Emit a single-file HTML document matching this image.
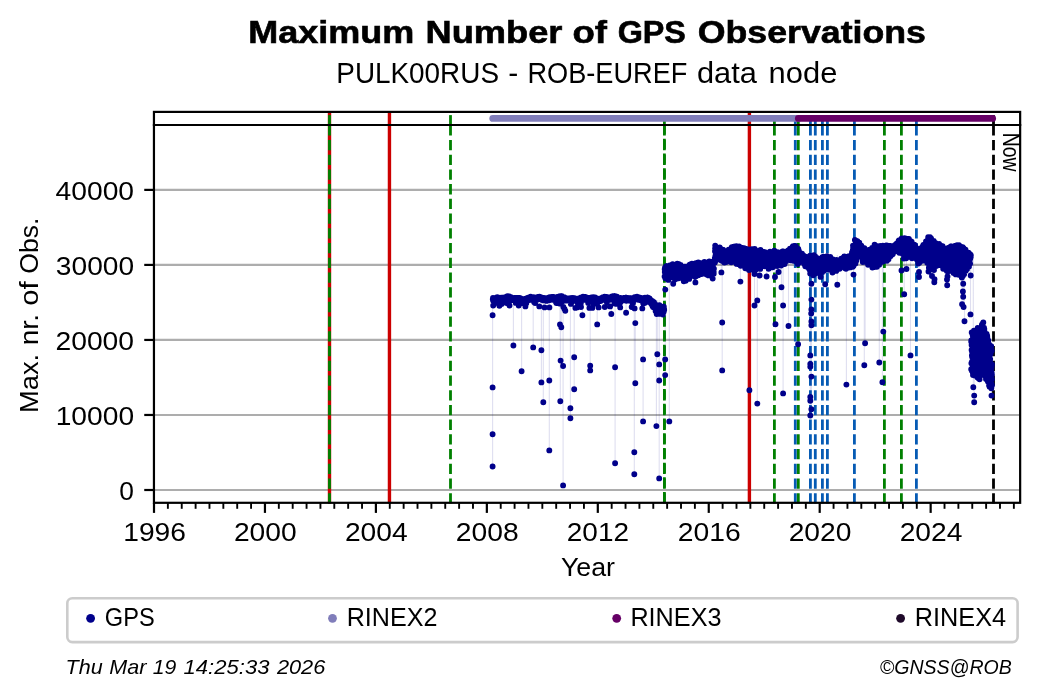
<!DOCTYPE html>
<html lang="en"><head><meta charset="utf-8"><title>Maximum Number of GPS Observations - PULK00RUS</title>
<style>html,body{margin:0;padding:0;background:#fff;overflow:hidden}svg{display:block;will-change:transform}text{font-family:"Liberation Sans",sans-serif;fill:#000}</style>
</head><body>
<svg width="1040" height="699" viewBox="0 0 1040 699">
<rect width="1040" height="699" fill="#fff"/>
<text y="42.70" font-size="31.32" font-weight="bold" stroke="#000" stroke-width="0.6"><tspan x="248.23" textLength="165.98" lengthAdjust="spacingAndGlyphs">Maximum</tspan> <tspan x="425.49" textLength="136.93" lengthAdjust="spacingAndGlyphs">Number</tspan> <tspan x="572.45" textLength="34.54" lengthAdjust="spacingAndGlyphs">of</tspan> <tspan x="617.66" textLength="68.25" lengthAdjust="spacingAndGlyphs">GPS</tspan> <tspan x="697.65" textLength="228.35" lengthAdjust="spacingAndGlyphs">Observations</tspan></text>
<text y="82.60" font-size="29.44"><tspan x="336.29" textLength="162.70" lengthAdjust="spacingAndGlyphs">PULK00RUS</tspan> <tspan x="508.16" textLength="10.01" lengthAdjust="spacingAndGlyphs">-</tspan> <tspan x="527.42" textLength="159.99" lengthAdjust="spacingAndGlyphs">ROB-EUREF</tspan> <tspan x="696.96" textLength="59.85" lengthAdjust="spacingAndGlyphs">data</tspan> <tspan x="768.63" textLength="68.77" lengthAdjust="spacingAndGlyphs">node</tspan></text>
<g stroke="#adadad" stroke-width="2.15">
<line x1="153.95" x2="1020.15" y1="490.00" y2="490.00"/>
<line x1="153.95" x2="1020.15" y1="414.97" y2="414.97"/>
<line x1="153.95" x2="1020.15" y1="339.94" y2="339.94"/>
<line x1="153.95" x2="1020.15" y1="264.91" y2="264.91"/>
<line x1="153.95" x2="1020.15" y1="189.88" y2="189.88"/>
</g>
<path d="M329.50 503.50V125.00" stroke="#cc0000" stroke-width="3.40" fill="none"/>
<path d="M329.50 125.40V111.90" stroke="#cc0000" stroke-width="3.40" fill="none"/>
<path d="M329.50 503.50V125.00" stroke="#008000" stroke-width="2.90" stroke-dasharray="10.28 4.44" fill="none"/>
<path d="M329.50 125.40V111.90" stroke="#008000" stroke-width="2.90" stroke-dasharray="10.28 4.44" fill="none"/>
<path d="M389.45 503.50V125.00" stroke="#cc0000" stroke-width="3.40" fill="none"/>
<path d="M389.45 125.40V111.90" stroke="#cc0000" stroke-width="3.40" fill="none"/>
<path d="M450.50 503.50V125.00" stroke="#008000" stroke-width="2.80" stroke-dasharray="10.28 4.44" fill="none"/>
<path d="M450.50 125.40V111.90" stroke="#008000" stroke-width="2.80" stroke-dasharray="10.28 4.44" fill="none"/>
<path d="M664.40 503.50V125.00" stroke="#008000" stroke-width="2.80" stroke-dasharray="10.28 4.44" fill="none"/>
<path d="M664.40 125.40V111.90" stroke="#008000" stroke-width="2.80" stroke-dasharray="10.28 4.44" fill="none"/>
<path d="M664.4 502.35V125.00" stroke="#008000" stroke-width="2.8" stroke-dasharray="10.28 4.44" fill="none"/>
<path d="M749.40 503.50V125.00" stroke="#cc0000" stroke-width="3.40" fill="none"/>
<path d="M749.40 125.40V111.90" stroke="#cc0000" stroke-width="3.40" fill="none"/>
<path d="M774.40 503.50V125.00" stroke="#008000" stroke-width="2.80" stroke-dasharray="10.28 4.44" fill="none"/>
<path d="M774.40 125.40V111.90" stroke="#008000" stroke-width="2.80" stroke-dasharray="10.28 4.44" fill="none"/>
<path d="M795.30 503.50V125.00" stroke="#065bb4" stroke-width="2.80" stroke-dasharray="10.28 4.44" fill="none"/>
<path d="M795.30 125.40V111.90" stroke="#065bb4" stroke-width="2.80" stroke-dasharray="10.28 4.44" fill="none"/>
<path d="M798.30 503.50V125.00" stroke="#008000" stroke-width="2.80" stroke-dasharray="10.28 4.44" fill="none"/>
<path d="M798.30 125.40V111.90" stroke="#008000" stroke-width="2.80" stroke-dasharray="10.28 4.44" fill="none"/>
<path d="M810.40 503.50V125.00" stroke="#065bb4" stroke-width="2.80" stroke-dasharray="10.28 4.44" fill="none"/>
<path d="M810.40 125.40V111.90" stroke="#065bb4" stroke-width="2.80" stroke-dasharray="10.28 4.44" fill="none"/>
<path d="M815.30 503.50V125.00" stroke="#065bb4" stroke-width="2.80" stroke-dasharray="10.28 4.44" fill="none"/>
<path d="M815.30 125.40V111.90" stroke="#065bb4" stroke-width="2.80" stroke-dasharray="10.28 4.44" fill="none"/>
<path d="M822.40 503.50V125.00" stroke="#065bb4" stroke-width="2.80" stroke-dasharray="10.28 4.44" fill="none"/>
<path d="M822.40 125.40V111.90" stroke="#065bb4" stroke-width="2.80" stroke-dasharray="10.28 4.44" fill="none"/>
<path d="M827.40 503.50V125.00" stroke="#065bb4" stroke-width="2.80" stroke-dasharray="10.28 4.44" fill="none"/>
<path d="M827.40 125.40V111.90" stroke="#065bb4" stroke-width="2.80" stroke-dasharray="10.28 4.44" fill="none"/>
<path d="M854.40 503.50V125.00" stroke="#065bb4" stroke-width="2.80" stroke-dasharray="10.28 4.44" fill="none"/>
<path d="M854.40 125.40V111.90" stroke="#065bb4" stroke-width="2.80" stroke-dasharray="10.28 4.44" fill="none"/>
<path d="M884.40 503.50V125.00" stroke="#008000" stroke-width="2.80" stroke-dasharray="10.28 4.44" fill="none"/>
<path d="M884.40 125.40V111.90" stroke="#008000" stroke-width="2.80" stroke-dasharray="10.28 4.44" fill="none"/>
<path d="M901.40 503.50V125.00" stroke="#008000" stroke-width="2.80" stroke-dasharray="10.28 4.44" fill="none"/>
<path d="M901.40 125.40V111.90" stroke="#008000" stroke-width="2.80" stroke-dasharray="10.28 4.44" fill="none"/>
<path d="M916.40 503.50V125.00" stroke="#065bb4" stroke-width="2.80" stroke-dasharray="10.28 4.44" fill="none"/>
<path d="M916.40 125.40V111.90" stroke="#065bb4" stroke-width="2.80" stroke-dasharray="10.28 4.44" fill="none"/>
<path d="M993.50 503.50V125.00" stroke="#000" stroke-width="2.80" stroke-dasharray="10.28 4.44" fill="none"/>
<path d="M993.50 125.40V111.90" stroke="#000" stroke-width="2.80" stroke-dasharray="10.28 4.44" fill="none"/>
<path d="M492.6 300.0V466.5M513.4 300.0V345.5M521.6 300.0V371.3M533.2 300.0V347.4M541.4 300.0V382.4M543.3 300.0V402.2M549.3 300.0V450.4M560.0 300.0V324.4M560.3 300.0V401.3M560.6 300.0V360.6M561.3 300.0V327.2M563.1 300.0V485.4M570.4 300.0V418.3M574.2 300.0V389.3M582.4 300.0V315.3M590.2 300.0V370.4M597.2 300.0V324.4M611.3 300.0V314.0M615.1 300.0V463.3M626.1 300.0V312.8M634.3 300.0V474.3M635.3 300.0V383.3M643.1 300.0V421.4M656.4 300.0V426.1M657.3 300.0V354.3M659.2 300.0V478.4M665.2 300.0V375.1M669.3 270.0V421.4M673.2 270.0V283.7M695.4 270.0V282.4M721.4 255.0V272.4M722.2 255.0V370.4M740.4 255.0V281.6M749.4 255.0V390.3M754.5 255.0V305.5M757.3 255.0V403.6M759.6 255.0V275.5M766.6 255.0V276.5M775.0 255.0V277.0M775.5 255.0V324.2M778.6 255.0V272.0M781.5 255.0V287.2M783.1 255.0V393.4M788.5 255.0V326.0M798.1 255.0V344.3M810.3 255.0V415.5M811.2 255.0V313.5M811.4 255.0V409.2M820.6 255.0V276.9M825.2 255.0V284.2M837.3 255.0V284.8M846.4 255.0V384.6M853.5 255.0V274.6M864.3 255.0V365.3M865.1 255.0V343.2M879.3 255.0V362.5M882.4 255.0V382.3M883.3 255.0V331.6M901.5 255.0V270.5M904.2 255.0V294.2M906.5 255.0V269.0M910.5 255.0V355.4M919.0 255.0V277.0M928.5 255.0V271.5M932.0 255.0V276.0M934.3 255.0V282.3M934.5 255.0V279.3M947.0 255.0V279.5M947.2 255.0V285.3M947.5 255.0V276.5M962.1 255.0V304.2M962.9 255.0V291.5M963.2 255.0V296.7M963.6 255.0V307.0M964.5 255.0V321.3M970.5 255.0V314.4M970.7 255.0V275.5M973.3 255.0V387.2M974.2 350.0V402.3M991.5 350.0V395.6" stroke="#00008b" stroke-opacity="0.13" stroke-width="1.1" fill="none"/>
<path d="M492.8 299.2h0M493.0 298.0h0M493.1 300.5h0M493.3 298.9h0M493.4 299.1h0M493.6 298.5h0M493.8 299.6h0M493.9 298.4h0M494.1 298.3h0M494.2 299.2h0M494.4 299.5h0M494.6 298.3h0M494.7 299.4h0M494.9 298.8h0M495.0 300.6h0M495.2 297.9h0M495.4 300.5h0M495.5 298.8h0M495.7 299.0h0M495.8 297.9h0M496.0 299.6h0M496.2 298.0h0M496.3 298.4h0M496.5 297.4h0M496.6 298.3h0M496.8 300.2h0M497.0 300.2h0M497.1 299.5h0M497.3 297.2h0M497.4 300.0h0M497.6 299.8h0M497.8 299.5h0M497.9 297.7h0M498.1 297.5h0M498.2 298.4h0M498.4 299.9h0M498.6 298.9h0M498.7 299.4h0M498.9 297.9h0M499.0 298.8h0M499.2 299.4h0M499.4 299.8h0M499.5 299.7h0M499.7 298.0h0M499.8 300.0h0M500.0 298.0h0M500.2 299.8h0M500.3 299.1h0M500.5 298.0h0M500.6 299.3h0M500.8 299.1h0M501.0 300.4h0M501.1 297.7h0M501.3 298.1h0M501.4 300.6h0M501.6 300.1h0M501.8 298.1h0M501.9 298.3h0M502.1 299.3h0M502.2 298.1h0M502.4 298.6h0M502.6 297.8h0M502.7 299.8h0M502.9 297.9h0M503.0 300.6h0M503.2 300.3h0M503.4 299.9h0M503.5 299.8h0M503.7 298.6h0M503.8 299.5h0M504.0 299.7h0M504.2 298.8h0M504.3 297.5h0M504.5 299.1h0M504.6 298.2h0M504.8 299.0h0M505.0 298.3h0M505.1 299.9h0M505.3 297.6h0M505.4 299.2h0M505.6 298.9h0M505.8 298.5h0M505.9 297.0h0M506.1 297.2h0M506.2 299.5h0M506.4 297.3h0M506.6 297.0h0M506.7 297.3h0M506.9 298.0h0M507.0 297.9h0M507.2 296.4h0M507.4 296.3h0M507.5 297.8h0M507.7 296.8h0M507.8 298.1h0M508.0 298.6h0M508.2 296.5h0M508.3 297.8h0M508.5 297.5h0M508.6 298.6h0M508.8 299.1h0M509.0 297.6h0M509.1 297.1h0M509.3 299.0h0M509.4 296.5h0M509.6 297.4h0M509.8 297.7h0M509.9 297.1h0M510.1 298.6h0M510.2 298.2h0M510.4 297.5h0M510.6 298.0h0M510.7 298.9h0M510.9 297.9h0M511.0 297.2h0M511.2 298.4h0M511.4 297.7h0M511.5 299.0h0M511.7 297.8h0M511.8 297.7h0M512.0 300.1h0M512.2 298.4h0M512.3 298.4h0M512.5 299.2h0M512.6 299.7h0M512.8 299.7h0M513.0 300.1h0M513.1 298.5h0M513.3 299.1h0M513.4 298.9h0M513.6 299.4h0M513.8 299.6h0M513.9 299.8h0M514.1 298.2h0M514.2 299.1h0M514.4 300.1h0M514.6 298.1h0M514.7 300.2h0M514.9 300.1h0M515.0 299.2h0M515.2 299.4h0M515.4 298.8h0M515.5 300.2h0M515.7 299.4h0M515.8 298.8h0M516.0 298.0h0M516.2 299.0h0M516.3 300.7h0M516.5 299.9h0M516.6 299.8h0M516.8 300.7h0M517.0 297.9h0M517.1 299.6h0M517.3 298.4h0M517.4 299.0h0M517.6 298.4h0M517.8 298.8h0M517.9 300.5h0M518.1 300.0h0M518.2 300.3h0M518.4 298.0h0M518.6 298.7h0M518.7 300.2h0M518.9 297.9h0M519.0 298.4h0M519.2 298.1h0M519.4 300.3h0M519.5 298.6h0M519.7 299.2h0M519.8 298.0h0M520.0 298.4h0M520.2 299.6h0M520.3 300.5h0M520.5 299.2h0M520.6 299.1h0M520.8 298.4h0M521.0 298.6h0M521.1 298.8h0M521.3 299.0h0M521.4 300.1h0M521.6 299.6h0M521.8 301.5h0M521.9 299.4h0M522.1 301.2h0M522.2 298.9h0M522.4 300.3h0M522.6 300.4h0M522.7 300.7h0M522.9 300.0h0M523.0 300.4h0M523.2 301.2h0M523.4 299.3h0M523.5 300.5h0M523.7 300.6h0M523.8 301.2h0M524.0 299.4h0M524.2 300.1h0M524.3 298.9h0M524.5 300.8h0M524.6 301.4h0M524.8 299.8h0M525.0 301.2h0M525.1 300.7h0M525.3 298.7h0M525.4 300.0h0M525.6 298.7h0M525.8 299.4h0M525.9 300.8h0M526.1 298.7h0M526.2 300.0h0M526.4 298.4h0M526.6 298.5h0M526.7 300.9h0M526.9 298.3h0M527.0 298.4h0M527.2 300.7h0M527.4 298.7h0M527.5 298.3h0M527.7 297.9h0M527.8 299.0h0M528.0 297.6h0M528.2 298.1h0M528.3 298.0h0M528.5 299.5h0M528.6 297.7h0M528.8 298.9h0M529.0 297.8h0M529.1 300.0h0M529.3 300.0h0M529.4 299.7h0M529.6 299.6h0M529.8 298.6h0M529.9 299.7h0M530.1 298.8h0M530.2 297.3h0M530.4 299.0h0M530.6 299.4h0M530.7 296.8h0M530.9 297.4h0M531.0 299.2h0M531.2 299.1h0M531.4 298.5h0M531.5 297.2h0M531.7 297.7h0M531.8 297.6h0M532.0 299.9h0M532.2 297.6h0M532.3 298.1h0M532.5 299.1h0M532.6 299.0h0M532.8 298.7h0M533.0 299.0h0M533.1 299.7h0M533.3 299.9h0M533.4 297.5h0M533.6 297.3h0M533.8 299.9h0M533.9 299.9h0M534.1 298.3h0M534.2 298.4h0M534.4 299.3h0M534.6 298.5h0M534.7 297.6h0M534.9 298.0h0M535.0 298.2h0M535.2 299.0h0M535.4 297.8h0M535.5 299.4h0M535.7 300.1h0M535.8 298.4h0M536.0 298.9h0M536.2 299.1h0M536.3 299.5h0M536.5 299.0h0M536.6 298.6h0M536.8 299.2h0M537.0 297.1h0M537.1 299.8h0M537.3 299.6h0M537.4 299.0h0M537.6 297.5h0M537.8 298.7h0M537.9 296.9h0M538.1 298.0h0M538.2 297.4h0M538.4 298.4h0M538.6 297.4h0M538.7 296.9h0M538.9 299.0h0M539.0 297.4h0M539.2 298.3h0M539.4 296.6h0M539.5 298.3h0M539.7 299.0h0M539.8 298.9h0M540.0 297.6h0M540.2 297.0h0M540.3 298.5h0M540.5 297.6h0M540.6 297.5h0M540.8 297.3h0M541.0 297.9h0M541.1 298.8h0M541.3 298.0h0M541.4 298.8h0M541.6 299.1h0M541.8 299.4h0M541.9 298.7h0M542.1 300.1h0M542.2 298.7h0M542.4 298.8h0M542.6 299.3h0M542.7 300.3h0M542.9 299.5h0M543.0 300.2h0M543.2 298.0h0M543.4 298.9h0M543.5 299.8h0M543.7 299.9h0M543.8 300.3h0M544.0 298.6h0M544.2 298.8h0M544.3 299.2h0M544.5 299.2h0M544.6 298.3h0M544.8 299.2h0M545.0 300.0h0M545.1 300.4h0M545.3 298.9h0M545.4 300.0h0M545.6 300.5h0M545.8 298.7h0M545.9 298.3h0M546.1 298.7h0M546.2 300.2h0M546.4 300.9h0M546.6 299.3h0M546.7 299.1h0M546.9 300.0h0M547.0 299.0h0M547.2 298.2h0M547.4 298.8h0M547.5 299.8h0M547.7 299.3h0M547.8 298.9h0M548.0 299.0h0M548.2 298.2h0M548.3 300.0h0M548.5 298.8h0M548.6 299.7h0M548.8 299.3h0M549.0 300.2h0M549.1 299.8h0M549.3 297.8h0M549.4 298.7h0M549.6 297.3h0M549.8 299.5h0M549.9 297.9h0M550.1 300.1h0M550.2 297.8h0M550.4 298.6h0M550.6 298.5h0M550.7 299.5h0M550.9 298.8h0M551.0 299.6h0M551.2 297.9h0M551.4 297.2h0M551.5 297.5h0M551.7 297.0h0M551.8 299.0h0M552.0 298.9h0M552.2 299.1h0M552.3 299.2h0M552.5 297.3h0M552.6 297.1h0M552.8 298.9h0M553.0 296.9h0M553.1 298.0h0M553.3 298.7h0M553.4 299.0h0M553.6 298.9h0M553.8 299.9h0M553.9 300.0h0M554.1 298.0h0M554.2 298.0h0M554.4 297.2h0M554.6 297.5h0M554.7 298.5h0M554.9 299.1h0M555.0 297.9h0M555.2 297.5h0M555.4 299.3h0M555.5 299.2h0M555.7 298.7h0M555.8 297.6h0M556.0 297.8h0M556.2 298.0h0M556.3 299.7h0M556.5 299.9h0M556.6 297.3h0M556.8 299.9h0M557.0 299.8h0M557.1 299.4h0M557.3 297.7h0M557.4 299.9h0M557.6 299.3h0M557.8 297.3h0M557.9 296.9h0M558.1 297.9h0M558.2 298.5h0M558.4 296.8h0M558.6 299.5h0M558.7 298.6h0M558.9 298.1h0M559.0 298.0h0M559.2 296.7h0M559.4 298.6h0M559.5 298.6h0M559.7 296.4h0M559.8 298.7h0M560.0 297.3h0M560.2 299.0h0M560.3 297.2h0M560.5 296.8h0M560.6 296.7h0M560.8 297.1h0M561.0 296.3h0M561.1 296.5h0M561.3 297.5h0M561.4 297.7h0M561.6 297.7h0M561.8 296.5h0M561.9 296.2h0M562.1 296.6h0M562.2 298.8h0M562.4 296.6h0M562.6 298.3h0M562.7 297.9h0M562.9 298.1h0M563.0 299.2h0M563.2 297.2h0M563.4 298.6h0M563.5 298.1h0M563.7 297.7h0M563.8 297.9h0M564.0 297.4h0M564.2 297.1h0M564.3 299.7h0M564.5 298.9h0M564.6 297.6h0M564.8 299.6h0M565.0 297.8h0M565.1 299.3h0M565.3 299.1h0M565.4 299.8h0M565.6 298.8h0M565.8 300.5h0M565.9 299.8h0M566.1 299.1h0M566.2 298.1h0M566.4 298.6h0M566.6 298.3h0M566.7 299.5h0M566.9 300.4h0M567.0 300.2h0M567.2 300.0h0M567.4 299.3h0M567.5 298.9h0M567.7 300.5h0M567.8 300.1h0M568.0 300.1h0M568.2 299.8h0M568.3 300.5h0M568.5 299.9h0M568.6 298.9h0M568.8 299.3h0M569.0 299.1h0M569.1 299.0h0M569.3 300.8h0M569.4 300.2h0M569.6 299.9h0M569.8 299.4h0M569.9 299.5h0M570.1 298.3h0M570.2 299.4h0M570.4 299.7h0M570.6 299.0h0M570.7 299.4h0M570.9 300.9h0M571.0 300.6h0M571.2 298.1h0M571.4 300.7h0M571.5 300.2h0M571.7 300.3h0M571.8 300.3h0M572.0 298.5h0M572.2 298.2h0M572.3 299.8h0M572.5 300.3h0M572.6 298.2h0M572.8 297.9h0M573.0 300.7h0M573.1 300.7h0M573.3 298.7h0M573.4 300.5h0M573.6 298.9h0M573.8 300.6h0M573.9 298.1h0M574.1 299.9h0M574.2 298.8h0M574.4 300.1h0M574.6 298.3h0M574.7 300.2h0M574.9 298.6h0M575.0 299.7h0M575.2 298.6h0M575.4 299.6h0M575.5 298.9h0M575.7 299.5h0M575.8 299.9h0M576.0 300.5h0M576.2 300.5h0M576.3 300.2h0M576.5 301.2h0M576.6 299.9h0M576.8 299.1h0M577.0 300.7h0M577.1 299.7h0M577.3 301.4h0M577.4 299.8h0M577.6 298.7h0M577.8 299.6h0M577.9 301.4h0M578.1 300.0h0M578.2 301.0h0M578.4 299.6h0M578.6 300.2h0M578.7 298.6h0M578.9 298.9h0M579.0 298.6h0M579.2 299.4h0M579.4 299.1h0M579.5 299.7h0M579.7 300.0h0M579.8 298.7h0M580.0 298.7h0M580.2 297.9h0M580.3 298.1h0M580.5 298.8h0M580.6 300.3h0M580.8 298.1h0M581.0 298.6h0M581.1 297.4h0M581.3 299.1h0M581.4 298.5h0M581.6 298.1h0M581.8 298.3h0M581.9 297.9h0M582.1 298.2h0M582.2 297.5h0M582.4 299.0h0M582.6 299.7h0M582.7 299.5h0M582.9 297.9h0M583.0 296.8h0M583.2 299.1h0M583.4 298.1h0M583.5 298.4h0M583.7 298.7h0M583.8 299.2h0M584.0 298.3h0M584.2 298.0h0M584.3 297.1h0M584.5 296.9h0M584.6 297.3h0M584.8 297.3h0M585.0 299.7h0M585.1 298.6h0M585.3 297.0h0M585.4 297.9h0M585.6 298.2h0M585.8 299.5h0M585.9 298.3h0M586.1 298.8h0M586.2 297.9h0M586.4 298.2h0M586.6 297.5h0M586.7 299.6h0M586.9 298.8h0M587.0 299.6h0M587.2 299.1h0M587.4 297.7h0M587.5 298.3h0M587.7 298.4h0M587.8 299.9h0M588.0 298.6h0M588.2 300.4h0M588.3 300.0h0M588.5 299.6h0M588.6 299.2h0M588.8 299.7h0M589.0 298.6h0M589.1 297.9h0M589.3 300.1h0M589.4 298.9h0M589.6 300.4h0M589.8 299.7h0M589.9 299.2h0M590.1 298.8h0M590.2 299.5h0M590.4 298.2h0M590.6 298.5h0M590.7 298.4h0M590.9 299.8h0M591.0 300.2h0M591.2 297.6h0M591.4 297.4h0M591.5 298.3h0M591.7 299.3h0M591.8 298.5h0M592.0 299.5h0M592.2 300.1h0M592.3 299.2h0M592.5 299.1h0M592.6 297.6h0M592.8 298.9h0M593.0 299.0h0M593.1 297.7h0M593.3 297.2h0M593.4 299.2h0M593.6 300.1h0M593.8 299.1h0M593.9 297.8h0M594.1 299.8h0M594.2 298.2h0M594.4 298.3h0M594.6 299.7h0M594.7 299.7h0M594.9 300.2h0M595.0 300.1h0M595.2 297.5h0M595.4 298.2h0M595.5 299.3h0M595.7 298.3h0M595.8 300.2h0M596.0 300.0h0M596.2 300.1h0M596.3 300.7h0M596.5 300.0h0M596.6 300.9h0M596.8 299.4h0M597.0 298.5h0M597.1 299.7h0M597.3 301.0h0M597.4 300.1h0M597.6 299.2h0M597.8 298.6h0M597.9 298.7h0M598.1 298.7h0M598.2 300.5h0M598.4 299.4h0M598.6 299.7h0M598.7 301.4h0M598.9 299.4h0M599.0 300.4h0M599.2 299.5h0M599.4 299.6h0M599.5 299.7h0M599.7 299.7h0M599.8 298.7h0M600.0 300.2h0M600.2 299.9h0M600.3 298.6h0M600.5 301.1h0M600.6 301.1h0M600.8 298.9h0M601.0 299.0h0M601.1 300.3h0M601.3 299.4h0M601.4 299.5h0M601.6 300.0h0M601.8 299.9h0M601.9 298.4h0M602.1 299.0h0M602.2 299.9h0M602.4 300.1h0M602.6 299.9h0M602.7 299.7h0M602.9 299.2h0M603.0 297.2h0M603.2 298.2h0M603.4 299.1h0M603.5 297.7h0M603.7 297.1h0M603.8 298.6h0M604.0 299.1h0M604.2 299.8h0M604.3 298.9h0M604.5 298.1h0M604.6 296.8h0M604.8 298.7h0M605.0 299.3h0M605.1 298.2h0M605.3 298.3h0M605.4 296.9h0M605.6 297.6h0M605.8 298.4h0M605.9 299.0h0M606.1 297.6h0M606.2 299.1h0M606.4 298.4h0M606.6 298.3h0M606.7 297.3h0M606.9 298.8h0M607.0 297.1h0M607.2 298.0h0M607.4 299.4h0M607.5 299.4h0M607.7 299.6h0M607.8 297.4h0M608.0 299.5h0M608.2 298.3h0M608.3 297.4h0M608.5 299.6h0M608.6 299.7h0M608.8 299.8h0M609.0 298.0h0M609.1 297.6h0M609.3 299.7h0M609.4 299.0h0M609.6 299.7h0M609.8 299.1h0M609.9 299.8h0M610.1 299.0h0M610.2 299.3h0M610.4 299.6h0M610.6 298.1h0M610.7 299.5h0M610.9 298.0h0M611.0 299.6h0M611.2 298.3h0M611.4 298.5h0M611.5 296.6h0M611.7 297.6h0M611.8 297.3h0M612.0 296.5h0M612.2 297.4h0M612.3 297.1h0M612.5 296.7h0M612.6 297.1h0M612.8 298.8h0M613.0 296.9h0M613.1 298.3h0M613.3 299.1h0M613.4 296.1h0M613.6 298.2h0M613.8 296.5h0M613.9 296.6h0M614.1 297.0h0M614.2 298.8h0M614.4 298.7h0M614.6 296.3h0M614.7 298.4h0M614.9 296.3h0M615.0 297.1h0M615.2 299.1h0M615.4 298.8h0M615.5 296.5h0M615.7 297.9h0M615.8 297.5h0M616.0 298.3h0M616.2 298.9h0M616.3 298.1h0M616.5 299.3h0M616.6 299.2h0M616.8 297.1h0M617.0 296.8h0M617.1 297.3h0M617.3 298.3h0M617.4 299.0h0M617.6 299.5h0M617.8 299.2h0M617.9 299.1h0M618.1 299.0h0M618.2 299.2h0M618.4 298.6h0M618.6 299.4h0M618.7 300.0h0M618.9 300.1h0M619.0 299.8h0M619.2 299.7h0M619.4 298.0h0M619.5 298.8h0M619.7 299.3h0M619.8 298.9h0M620.0 298.6h0M620.2 299.2h0M620.3 300.6h0M620.5 298.9h0M620.6 300.9h0M620.8 298.2h0M621.0 299.4h0M621.1 300.4h0M621.3 300.5h0M621.4 298.2h0M621.6 298.5h0M621.8 298.4h0M621.9 299.9h0M622.1 298.5h0M622.2 299.3h0M622.4 299.0h0M622.6 298.4h0M622.7 299.2h0M622.9 299.4h0M623.0 299.8h0M623.2 299.0h0M623.4 298.2h0M623.5 298.9h0M623.7 300.0h0M623.8 297.9h0M624.0 299.4h0M624.2 297.9h0M624.3 300.4h0M624.5 298.4h0M624.6 299.3h0M624.8 298.0h0M625.0 299.3h0M625.1 300.1h0M625.3 300.4h0M625.4 300.0h0M625.6 300.3h0M625.8 297.7h0M625.9 300.1h0M626.1 297.8h0M626.2 300.3h0M626.4 300.7h0M626.6 299.8h0M626.7 299.5h0M626.9 299.9h0M627.0 298.0h0M627.2 300.3h0M627.4 298.0h0M627.5 298.5h0M627.7 298.6h0M627.8 299.9h0M628.0 299.1h0M628.2 299.1h0M628.3 299.5h0M628.5 300.3h0M628.6 300.5h0M628.8 300.6h0M629.0 298.9h0M629.1 298.3h0M629.3 298.4h0M629.4 298.5h0M629.6 300.4h0M629.8 298.4h0M629.9 300.5h0M630.1 298.2h0M630.2 300.3h0M630.4 299.0h0M630.6 300.2h0M630.7 300.5h0M630.9 300.2h0M631.0 298.4h0M631.2 298.2h0M631.4 299.3h0M631.5 300.8h0M631.7 299.5h0M631.8 298.8h0M632.0 299.4h0M632.2 300.4h0M632.3 298.5h0M632.5 298.2h0M632.6 300.5h0M632.8 299.0h0M633.0 299.0h0M633.1 298.5h0M633.3 298.3h0M633.4 300.1h0M633.6 299.8h0M633.8 298.1h0M633.9 299.5h0M634.1 300.0h0M634.2 298.4h0M634.4 300.0h0M634.6 297.3h0M634.7 299.5h0M634.9 299.5h0M635.0 297.6h0M635.2 297.7h0M635.4 297.6h0M635.5 297.2h0M635.7 299.1h0M635.8 298.8h0M636.0 299.0h0M636.2 298.6h0M636.3 297.4h0M636.5 296.9h0M636.6 297.4h0M636.8 299.0h0M637.0 296.7h0M637.1 298.2h0M637.3 297.6h0M637.4 297.5h0M637.6 297.7h0M637.8 298.5h0M637.9 297.3h0M638.1 297.3h0M638.2 299.4h0M638.4 299.2h0M638.6 298.0h0M638.7 297.7h0M638.9 298.8h0M639.0 299.9h0M639.2 299.5h0M639.4 298.5h0M639.5 299.2h0M639.7 298.4h0M639.8 299.5h0M640.0 299.0h0M640.2 297.6h0M640.3 299.6h0M640.5 300.2h0M640.6 299.1h0M640.8 298.2h0M641.0 298.7h0M641.1 298.4h0M641.3 300.3h0M641.4 300.1h0M641.6 298.8h0M641.8 298.8h0M641.9 298.3h0M642.1 299.3h0M642.2 300.9h0M642.4 300.2h0M642.6 300.8h0M642.7 298.2h0M642.9 300.8h0M643.0 300.7h0M643.2 300.4h0M643.4 298.3h0M643.5 300.5h0M643.7 300.9h0M643.8 300.1h0M644.0 299.4h0M644.2 298.9h0M644.3 300.5h0M644.5 299.6h0M644.6 298.8h0M644.8 298.0h0M645.0 297.8h0M645.1 299.8h0M645.3 298.6h0M645.4 298.1h0M645.6 298.6h0M645.8 299.0h0M645.9 300.2h0M646.1 299.0h0M646.2 298.0h0M646.4 300.1h0M646.6 299.6h0M646.7 299.2h0M646.9 300.3h0M647.0 298.8h0M647.2 298.8h0M647.4 297.8h0M647.5 299.8h0M647.7 299.6h0M647.8 300.6h0M648.0 297.8h0M648.2 299.0h0M648.3 299.1h0M648.5 299.1h0M648.6 298.0h0M648.8 300.4h0M649.0 298.1h0M592.6 302.3h0M559.4 303.6h0M525.4 302.8h0M535.1 303.0h0M577.8 303.2h0M508.7 303.1h0M596.0 301.7h0M643.3 303.6h0M616.1 303.5h0M571.0 303.8h0M517.9 303.4h0M644.4 301.7h0M593.9 303.9h0M515.8 302.9h0M632.3 302.2h0M526.3 303.3h0M616.3 303.9h0M594.5 301.6h0M620.5 302.2h0M580.8 303.3h0M644.6 302.9h0M516.3 302.8h0M579.5 303.4h0M523.4 302.9h0M501.6 304.0h0M497.5 302.9h0M520.9 302.2h0M555.9 302.1h0M534.2 302.3h0M570.9 303.9h0M526.2 301.9h0M500.6 303.8h0M614.6 303.6h0M517.0 302.6h0M597.4 302.8h0M606.8 302.0h0M633.0 303.0h0M588.2 303.0h0M562.2 301.5h0M519.2 302.7h0M506.6 303.0h0M523.3 303.2h0M556.4 303.1h0M534.3 301.8h0M596.3 303.6h0M647.0 297.7h0M647.2 300.4h0M647.2 301.1h0M647.4 301.2h0M647.5 298.0h0M647.6 297.9h0M647.8 300.2h0M647.9 298.7h0M648.0 301.2h0M648.2 298.3h0M648.2 301.3h0M648.4 300.3h0M648.5 298.8h0M648.6 300.6h0M648.7 299.6h0M648.9 302.1h0M649.0 299.0h0M649.1 299.1h0M649.2 300.7h0M649.3 300.0h0M649.5 298.5h0M649.6 301.2h0M649.7 301.9h0M649.9 299.3h0M650.0 301.7h0M650.1 300.4h0M650.3 302.7h0M650.4 299.8h0M650.6 300.0h0M650.6 300.8h0M650.8 301.5h0M650.9 303.0h0M651.0 300.1h0M651.2 300.4h0M651.3 301.4h0M651.4 304.0h0M651.6 304.2h0M651.6 300.9h0M651.8 302.2h0M651.9 304.5h0M652.0 301.7h0M652.2 305.1h0M652.2 302.4h0M652.4 305.8h0M652.5 301.3h0M652.6 302.1h0M652.7 306.2h0M652.9 302.6h0M653.0 306.9h0M653.2 305.1h0M653.2 304.0h0M653.4 304.0h0M653.5 302.2h0M653.6 307.2h0M653.8 305.9h0M653.9 302.1h0M654.1 304.3h0M654.1 306.3h0M654.2 305.2h0M654.4 306.3h0M654.6 304.5h0M654.7 304.0h0M654.8 303.8h0M654.9 304.6h0M655.0 306.8h0M655.2 306.8h0M655.3 306.3h0M655.4 307.1h0M655.6 311.1h0M655.6 310.5h0M655.8 308.2h0M655.9 306.6h0M656.0 305.8h0M656.1 307.7h0M656.3 307.6h0M656.4 305.7h0M656.5 307.9h0M656.7 314.0h0M656.8 307.9h0M656.9 311.2h0M657.0 313.6h0M657.1 311.9h0M657.3 307.4h0M657.4 307.0h0M657.6 313.4h0M657.7 313.3h0M657.8 310.9h0M657.9 310.3h0M658.0 307.5h0M658.2 308.0h0M658.3 313.7h0M658.5 310.5h0M658.6 307.3h0M658.7 312.6h0M658.8 306.8h0M659.0 312.9h0M659.0 310.3h0M659.1 313.9h0M659.3 306.5h0M659.4 305.3h0M659.6 308.8h0M659.6 306.6h0M659.8 312.3h0M659.9 309.0h0M660.0 307.4h0M660.2 306.8h0M660.3 310.7h0M660.4 306.5h0M660.6 307.8h0M660.6 310.2h0M660.8 310.2h0M660.9 312.9h0M661.0 312.8h0M661.2 309.8h0M661.3 309.1h0M661.4 313.4h0M661.6 311.0h0M661.7 309.2h0M661.8 314.0h0M662.0 310.9h0M662.1 308.8h0M662.2 312.9h0M662.3 312.5h0M662.5 314.3h0M662.6 311.4h0M662.7 310.1h0M662.8 314.5h0M662.9 312.0h0M663.0 307.4h0M663.2 308.3h0M663.3 307.7h0M663.4 306.7h0M663.6 306.7h0M663.7 311.8h0M663.8 306.7h0M664.0 309.6h0M664.1 308.9h0M664.2 309.9h0M493.2 305.5h0M499.4 305.8h0M509.5 305.5h0M518.7 305.5h0M525.4 306.4h0M539.3 306.4h0M544.6 307.4h0M549.4 307.4h0M563.4 307.0h0M565.3 310.8h0M564.5 309.0h0M575.4 307.9h0M581.0 307.0h0M577.0 307.4h0M589.4 307.9h0M592.3 307.9h0M598.6 307.4h0M604.8 307.0h0M610.1 306.4h0M620.2 307.4h0M631.7 307.0h0M634.6 308.4h0M642.3 308.4h0M664.6 276.4h0M664.7 269.3h0M664.8 272.1h0M665.0 267.6h0M665.1 275.9h0M665.2 276.8h0M665.4 273.2h0M665.5 273.1h0M665.6 267.8h0M665.8 274.3h0M665.9 266.8h0M665.9 276.1h0M666.1 269.9h0M666.2 266.1h0M666.4 270.2h0M666.5 269.1h0M666.6 266.2h0M666.7 270.6h0M666.8 267.2h0M667.0 275.1h0M667.1 269.4h0M667.2 268.5h0M667.4 272.7h0M667.5 275.6h0M667.6 272.3h0M667.7 275.4h0M667.9 275.9h0M668.0 277.0h0M668.1 275.5h0M668.2 274.9h0M668.3 271.7h0M668.5 267.0h0M668.6 276.6h0M668.7 274.4h0M668.8 273.4h0M669.0 268.8h0M669.1 271.3h0M669.2 270.2h0M669.3 271.0h0M669.4 275.3h0M669.6 271.7h0M669.7 265.4h0M669.9 274.6h0M669.9 275.8h0M670.1 275.4h0M670.2 274.6h0M670.4 276.3h0M670.5 273.5h0M670.6 272.9h0M670.8 272.3h0M670.9 267.6h0M671.0 266.9h0M671.1 267.3h0M671.2 276.5h0M671.3 273.7h0M671.5 274.3h0M671.6 276.6h0M671.8 274.3h0M671.9 274.3h0M672.0 276.7h0M672.1 267.3h0M672.2 274.1h0M672.3 277.3h0M672.4 275.5h0M672.6 265.4h0M672.7 264.2h0M672.9 268.7h0M673.0 269.6h0M673.1 269.9h0M673.2 266.8h0M673.4 274.9h0M673.5 273.3h0M673.6 267.3h0M673.7 274.4h0M673.9 273.5h0M673.9 270.8h0M674.1 269.1h0M674.2 269.9h0M674.3 274.8h0M674.5 276.8h0M674.6 277.7h0M674.7 277.2h0M674.9 269.8h0M675.0 271.2h0M675.1 265.1h0M675.3 272.9h0M675.4 270.3h0M675.5 271.9h0M675.6 267.1h0M675.7 270.1h0M675.8 273.5h0M676.0 267.1h0M676.1 267.4h0M676.2 271.4h0M676.4 273.9h0M676.4 276.2h0M676.6 271.0h0M676.7 266.4h0M676.9 277.1h0M677.0 271.3h0M677.1 268.6h0M677.2 272.1h0M677.3 263.7h0M677.5 267.9h0M677.6 271.3h0M677.8 272.5h0M677.9 270.7h0M678.0 273.5h0M678.1 269.8h0M678.3 276.5h0M678.4 265.6h0M678.5 264.0h0M678.6 276.7h0M678.7 272.7h0M678.9 270.4h0M679.0 265.3h0M679.1 271.0h0M679.2 274.9h0M679.4 270.3h0M679.5 269.4h0M679.6 266.1h0M679.7 269.1h0M679.9 276.5h0M680.0 273.0h0M680.1 273.4h0M680.2 275.4h0M680.4 266.4h0M680.5 265.4h0M680.6 265.0h0M680.7 273.2h0M680.8 268.9h0M681.0 267.9h0M681.1 267.8h0M681.2 273.9h0M681.3 277.9h0M681.5 270.8h0M681.6 274.9h0M681.7 270.3h0M681.9 277.4h0M682.0 271.3h0M682.1 272.5h0M682.3 273.8h0M682.4 268.6h0M682.5 276.9h0M682.6 270.0h0M682.7 270.0h0M682.9 267.2h0M683.0 267.0h0M683.1 272.3h0M683.2 275.1h0M683.4 276.0h0M683.5 270.9h0M683.6 271.8h0M683.7 277.9h0M683.9 272.4h0M684.0 272.7h0M684.1 277.4h0M684.2 270.1h0M684.3 272.9h0M684.5 267.9h0M684.6 273.9h0M684.7 276.1h0M684.9 272.4h0M684.9 266.7h0M685.1 271.8h0M685.3 272.1h0M685.4 272.2h0M685.4 276.4h0M685.6 275.6h0M685.8 277.6h0M685.9 274.7h0M685.9 274.3h0M686.1 276.1h0M686.2 272.4h0M686.4 271.4h0M686.5 275.5h0M686.6 274.8h0M686.8 276.7h0M686.9 275.3h0M686.9 269.8h0M687.1 274.3h0M687.3 274.4h0M687.4 266.4h0M687.5 274.7h0M687.6 272.2h0M687.7 267.1h0M687.8 266.9h0M688.0 273.4h0M688.1 269.2h0M688.2 272.6h0M688.4 267.1h0M688.5 276.1h0M688.6 267.8h0M688.8 269.9h0M688.9 274.7h0M689.0 270.7h0M689.1 276.0h0M689.2 267.0h0M689.4 266.9h0M689.5 274.4h0M689.6 272.0h0M689.7 264.8h0M689.9 266.5h0M690.0 274.3h0M690.1 267.6h0M690.3 266.9h0M690.4 267.1h0M690.5 275.3h0M690.6 270.5h0M690.8 264.3h0M690.8 268.6h0M691.0 270.2h0M691.1 267.6h0M691.3 272.7h0M691.4 267.8h0M691.5 269.5h0M691.6 266.3h0M691.7 264.5h0M691.9 263.8h0M692.0 271.5h0M692.2 270.8h0M692.2 268.3h0M692.3 271.0h0M692.5 273.6h0M692.6 264.5h0M692.7 270.2h0M692.9 267.3h0M693.0 271.5h0M693.1 273.5h0M693.3 264.4h0M693.4 271.4h0M693.5 269.7h0M693.6 268.2h0M693.7 270.8h0M693.8 268.9h0M693.9 268.4h0M694.1 264.4h0M694.3 269.8h0M694.4 274.0h0M694.5 264.6h0M694.6 273.9h0M694.7 266.6h0M694.9 266.2h0M695.0 266.6h0M695.1 266.5h0M695.2 264.5h0M695.4 271.7h0M695.5 267.8h0M695.6 271.6h0M695.8 263.1h0M695.9 270.2h0M696.0 269.5h0M696.1 266.5h0M696.3 273.6h0M696.4 267.3h0M696.5 273.4h0M696.7 269.7h0M696.7 272.9h0M696.9 272.9h0M697.0 273.5h0M697.2 271.6h0M697.2 265.9h0M697.4 265.5h0M697.5 267.1h0M697.6 265.8h0M697.7 270.6h0M697.9 271.6h0M698.0 266.3h0M698.1 267.3h0M698.2 267.4h0M698.3 262.5h0M698.5 271.7h0M698.6 266.5h0M698.7 266.7h0M698.8 268.7h0M699.0 269.2h0M699.1 268.8h0M699.3 266.0h0M699.3 265.6h0M699.5 266.4h0M699.6 267.4h0M699.8 272.9h0M699.9 269.2h0M700.0 266.1h0M700.1 266.3h0M700.3 271.0h0M700.3 268.1h0M700.5 266.6h0M700.6 270.3h0M700.7 266.1h0M700.8 267.5h0M701.0 263.3h0M701.1 265.2h0M701.3 267.9h0M701.4 270.5h0M701.5 264.2h0M701.6 272.4h0M701.8 271.9h0M701.9 268.1h0M702.0 272.4h0M702.1 269.2h0M702.2 269.7h0M702.4 269.0h0M702.5 271.9h0M702.6 263.1h0M702.7 267.1h0M702.9 270.7h0M703.0 269.0h0M703.1 263.4h0M703.2 265.4h0M703.4 267.3h0M703.5 264.9h0M703.6 269.4h0M703.7 269.7h0M703.8 264.2h0M704.0 265.5h0M704.1 264.4h0M704.2 267.4h0M704.4 262.0h0M704.5 269.6h0M704.6 266.3h0M704.8 265.5h0M704.9 263.8h0M705.0 265.5h0M705.1 268.3h0M705.3 271.3h0M705.4 263.5h0M705.5 268.9h0M705.6 270.7h0M705.8 263.1h0M705.9 269.5h0M706.0 267.7h0M706.1 271.3h0M706.2 268.9h0M706.4 267.5h0M706.5 269.6h0M706.7 264.0h0M706.8 270.0h0M706.9 270.3h0M707.0 268.0h0M707.2 265.1h0M707.2 271.4h0M707.4 267.0h0M707.5 267.4h0M707.6 263.9h0M707.7 264.5h0M707.9 270.4h0M708.0 265.9h0M708.1 270.4h0M708.3 265.6h0M708.4 264.2h0M708.5 265.2h0M708.6 261.9h0M708.7 266.0h0M708.9 268.2h0M709.0 269.9h0M709.1 269.1h0M709.3 261.5h0M709.4 264.4h0M709.5 266.1h0M709.6 270.1h0M709.8 274.0h0M709.8 269.8h0M710.0 273.5h0M710.1 265.6h0M710.3 273.1h0M710.4 261.6h0M710.5 265.1h0M710.6 270.0h0M710.8 273.8h0M710.9 268.3h0M711.0 267.9h0M711.1 267.6h0M711.2 265.9h0M711.4 264.4h0M711.5 268.2h0M711.6 272.1h0M711.8 273.9h0M711.8 267.0h0M712.0 272.2h0M712.1 272.9h0M712.2 269.0h0M712.3 274.5h0M712.5 264.6h0M712.6 268.1h0M712.8 264.3h0M712.8 273.7h0M713.0 265.2h0M713.1 271.2h0M713.3 273.0h0M713.4 273.1h0M713.5 262.1h0M713.7 272.0h0M713.7 273.8h0M713.9 268.7h0M714.0 261.6h0M695.2 275.5h0M683.8 281.2h0M689.7 276.2h0M683.8 279.6h0M678.7 278.3h0M706.0 274.1h0M712.7 278.6h0M689.2 278.9h0M695.0 276.8h0M708.5 275.4h0M675.1 278.9h0M708.2 275.0h0M684.1 279.2h0M702.7 272.5h0M707.4 273.6h0M675.2 278.7h0M685.7 280.7h0M701.6 274.1h0M697.9 273.5h0M695.0 275.9h0M668.3 279.9h0M694.1 275.8h0M675.0 279.4h0M706.6 274.5h0M668.9 278.0h0M710.1 275.6h0M695.6 276.6h0M698.3 275.2h0M666.5 278.6h0M676.3 278.8h0M697.3 274.5h0M665.4 278.3h0M685.0 280.0h0M692.1 275.9h0M714.8 258.3h0M715.0 251.2h0M715.1 248.5h0M715.2 245.6h0M715.3 248.8h0M715.4 256.0h0M715.6 256.4h0M715.7 251.4h0M715.8 253.8h0M715.9 253.7h0M716.1 254.0h0M716.2 248.6h0M716.3 249.2h0M716.4 258.5h0M716.5 250.7h0M716.7 252.2h0M716.8 257.5h0M716.9 254.4h0M717.0 256.0h0M717.2 257.2h0M717.3 251.4h0M717.4 256.2h0M717.5 251.4h0M717.6 254.2h0M717.8 256.9h0M717.9 250.5h0M718.1 256.7h0M718.2 257.4h0M718.3 258.9h0M718.4 257.3h0M718.6 253.3h0M718.7 253.1h0M718.8 248.5h0M719.0 248.6h0M719.1 253.4h0M719.2 252.6h0M719.3 252.7h0M719.4 258.9h0M719.5 249.6h0M719.7 247.5h0M719.8 250.7h0M719.9 258.5h0M720.0 250.5h0M720.2 253.9h0M720.3 254.2h0M720.4 258.2h0M720.6 254.5h0M720.7 258.0h0M720.8 251.8h0M720.9 249.0h0M721.0 257.1h0M721.2 253.0h0M721.3 251.4h0M721.5 254.9h0M721.6 256.3h0M721.7 254.0h0M721.8 251.4h0M722.0 254.0h0M722.0 250.2h0M722.2 258.4h0M722.3 249.9h0M722.4 255.5h0M722.6 253.5h0M722.6 252.9h0M722.8 255.9h0M722.9 254.7h0M723.0 249.6h0M723.2 249.9h0M723.3 252.7h0M723.4 256.8h0M723.6 252.3h0M723.7 252.4h0M723.8 255.4h0M723.9 253.1h0M724.1 252.5h0M724.2 256.0h0M724.3 254.8h0M724.4 258.1h0M724.6 253.6h0M724.7 258.5h0M724.8 253.6h0M724.9 254.7h0M725.0 256.4h0M725.2 251.3h0M725.3 252.4h0M725.4 253.3h0M725.6 255.8h0M725.7 255.6h0M725.8 254.8h0M725.9 257.3h0M726.1 256.0h0M726.1 258.9h0M726.3 251.1h0M726.5 256.2h0M726.5 253.4h0M726.6 252.3h0M726.8 254.2h0M726.9 256.7h0M727.0 253.4h0M727.1 255.6h0M727.3 250.9h0M727.5 259.0h0M727.5 252.7h0M727.7 255.5h0M727.8 257.9h0M727.9 253.1h0M728.0 257.4h0M728.2 258.2h0M728.3 251.1h0M728.4 252.3h0M728.6 251.2h0M728.7 249.7h0M728.8 253.9h0M728.9 250.7h0M729.0 255.0h0M729.2 257.4h0M729.3 249.6h0M729.4 255.8h0M729.5 256.1h0M729.7 255.7h0M729.8 252.9h0M729.9 256.7h0M730.0 257.8h0M730.1 252.4h0M730.3 253.2h0M730.4 251.0h0M730.6 256.2h0M730.7 252.0h0M730.8 249.8h0M730.9 251.2h0M731.1 249.1h0M731.1 258.2h0M731.3 251.0h0M731.5 251.6h0M731.5 258.4h0M731.7 254.1h0M731.8 247.2h0M732.0 253.2h0M732.1 252.0h0M732.2 251.3h0M732.3 256.9h0M732.4 252.5h0M732.6 247.5h0M732.7 248.6h0M732.8 258.4h0M732.9 252.7h0M733.1 253.3h0M733.1 248.1h0M733.3 253.4h0M733.4 248.4h0M733.6 258.8h0M733.7 248.7h0M733.8 256.3h0M733.9 246.8h0M734.1 252.2h0M734.2 255.4h0M734.3 255.8h0M734.4 250.3h0M734.5 251.1h0M734.6 258.0h0M734.8 254.4h0M734.9 250.1h0M735.1 257.2h0M735.2 253.2h0M735.3 246.4h0M735.4 249.9h0M735.5 252.6h0M735.7 247.4h0M735.8 255.4h0M735.9 249.9h0M736.0 257.6h0M736.1 253.1h0M736.3 258.0h0M736.4 246.2h0M736.6 256.2h0M736.7 252.0h0M736.8 258.3h0M736.9 254.9h0M737.0 249.1h0M737.2 252.5h0M737.3 247.9h0M737.4 253.1h0M737.5 257.7h0M737.7 250.0h0M737.8 255.4h0M738.0 252.3h0M738.0 253.8h0M738.2 250.4h0M738.3 256.1h0M738.5 256.6h0M738.5 254.6h0M738.7 260.3h0M738.8 258.4h0M738.9 256.1h0M739.0 256.1h0M739.1 246.5h0M739.3 249.0h0M739.4 256.7h0M739.6 259.6h0M739.7 257.9h0M739.8 260.6h0M740.0 252.3h0M740.1 248.8h0M740.1 256.1h0M740.3 247.5h0M740.4 248.1h0M740.6 254.8h0M740.7 258.0h0M740.8 252.3h0M740.9 252.6h0M741.1 261.2h0M741.2 253.8h0M741.3 261.4h0M741.4 258.8h0M741.6 254.5h0M741.7 256.1h0M741.8 262.2h0M741.9 251.2h0M742.1 261.5h0M742.2 248.0h0M742.3 253.2h0M742.4 249.0h0M742.6 256.9h0M742.7 251.0h0M742.8 250.2h0M742.9 250.7h0M743.0 254.0h0M743.2 251.2h0M743.3 254.0h0M743.4 261.5h0M743.6 256.3h0M743.7 250.2h0M743.8 253.2h0M743.9 249.8h0M744.1 248.1h0M744.2 257.8h0M744.3 262.2h0M744.4 260.6h0M744.6 261.5h0M744.7 262.8h0M744.8 256.4h0M744.9 257.7h0M745.0 260.5h0M745.2 251.3h0M745.3 262.4h0M745.5 264.1h0M745.6 248.7h0M745.7 263.8h0M745.8 252.0h0M745.9 251.0h0M746.1 257.3h0M746.2 262.1h0M746.3 262.3h0M746.4 264.9h0M746.6 257.5h0M746.7 255.8h0M746.8 262.9h0M746.9 264.0h0M747.0 253.7h0M747.2 262.7h0M747.3 250.1h0M747.4 263.5h0M747.6 262.5h0M747.7 265.7h0M747.8 265.6h0M748.0 258.7h0M748.1 249.5h0M748.2 250.0h0M748.3 263.8h0M748.4 263.6h0M748.6 251.6h0M748.7 265.7h0M748.8 254.5h0M748.9 251.9h0M749.1 264.1h0M749.1 265.3h0M749.3 250.6h0M749.4 250.5h0M749.5 262.1h0M749.7 253.5h0M749.8 262.1h0M749.9 256.9h0M750.0 262.8h0M750.2 258.3h0M750.3 266.2h0M750.5 252.0h0M750.5 257.6h0M750.7 255.4h0M750.8 258.6h0M751.0 249.5h0M751.1 258.7h0M751.1 261.5h0M751.3 249.6h0M751.4 263.0h0M751.5 261.8h0M751.7 261.2h0M751.8 257.2h0M751.9 255.6h0M752.0 257.0h0M752.2 255.8h0M752.3 259.7h0M752.5 262.8h0M752.6 249.1h0M752.7 251.0h0M752.8 258.0h0M752.9 258.9h0M753.0 257.3h0M753.2 252.8h0M753.3 261.7h0M753.4 261.4h0M753.5 265.5h0M753.7 261.6h0M753.8 255.3h0M753.9 251.3h0M754.1 250.5h0M754.1 261.6h0M754.3 256.2h0M754.4 266.3h0M754.5 251.5h0M754.7 249.0h0M754.8 254.1h0M754.9 264.7h0M755.0 260.6h0M755.2 263.1h0M755.3 264.5h0M755.4 259.6h0M755.6 264.7h0M755.6 256.1h0M755.8 251.9h0M755.9 253.5h0M756.0 261.5h0M756.2 258.0h0M756.3 253.1h0M756.4 256.8h0M756.6 252.4h0M756.6 254.7h0M756.8 260.7h0M756.9 263.6h0M757.0 256.3h0M757.2 263.6h0M757.3 262.6h0M757.5 251.9h0M757.6 261.1h0M757.7 260.9h0M757.8 265.6h0M757.9 251.1h0M758.1 255.7h0M758.2 254.7h0M758.3 264.0h0M758.4 264.8h0M758.5 262.8h0M758.7 258.2h0M758.8 265.7h0M758.9 265.1h0M759.1 262.7h0M759.2 253.8h0M759.3 259.3h0M759.4 253.8h0M759.6 253.3h0M759.7 255.0h0M759.8 266.1h0M759.9 260.9h0M760.1 257.6h0M760.2 263.8h0M760.3 259.2h0M760.4 251.8h0M760.5 250.0h0M760.7 256.1h0M760.8 264.2h0M760.9 253.2h0M761.0 252.7h0M761.1 256.8h0M761.3 256.1h0M761.4 256.3h0M761.5 252.7h0M761.7 257.7h0M761.8 259.6h0M761.9 255.8h0M762.0 260.1h0M762.1 253.8h0M762.3 258.4h0M762.4 257.5h0M762.6 254.8h0M762.7 254.9h0M762.8 260.0h0M762.9 252.3h0M763.1 263.0h0M763.2 253.9h0M763.3 259.1h0M763.4 251.9h0M763.5 260.2h0M763.7 264.1h0M763.8 253.5h0M764.0 257.2h0M764.0 254.7h0M764.2 264.6h0M764.3 266.2h0M764.4 255.9h0M764.5 257.5h0M764.7 262.1h0M764.8 255.0h0M765.0 252.3h0M765.0 254.5h0M765.2 266.0h0M765.3 254.9h0M765.4 263.9h0M765.5 259.4h0M765.7 265.0h0M765.8 254.5h0M765.9 260.2h0M766.0 262.0h0M766.1 261.5h0M766.3 257.3h0M766.5 260.2h0M766.6 265.9h0M766.6 264.7h0M766.8 265.4h0M766.9 256.5h0M767.0 260.3h0M767.2 265.1h0M767.3 261.0h0M767.5 265.1h0M767.5 263.3h0M767.7 253.1h0M767.8 255.1h0M767.9 260.9h0M768.0 260.0h0M768.2 258.1h0M768.3 259.7h0M768.4 257.0h0M768.6 262.8h0M768.7 258.4h0M768.8 252.8h0M768.9 256.0h0M769.0 259.3h0M769.1 255.3h0M769.3 264.3h0M769.4 256.8h0M769.5 257.4h0M769.7 263.1h0M769.8 258.5h0M769.9 256.1h0M770.0 251.6h0M770.2 261.7h0M770.3 261.7h0M770.5 265.6h0M770.5 255.6h0M770.7 255.2h0M770.8 261.7h0M770.9 265.1h0M771.0 252.8h0M771.2 258.6h0M771.3 254.7h0M771.4 252.6h0M771.6 255.8h0M771.7 262.5h0M771.8 261.9h0M771.9 263.6h0M772.0 257.0h0M772.2 253.1h0M772.3 252.8h0M772.4 253.0h0M772.6 254.9h0M772.7 254.5h0M772.8 262.2h0M772.9 263.6h0M773.1 256.8h0M773.2 263.1h0M773.3 257.5h0M773.4 253.5h0M773.6 255.0h0M773.7 260.7h0M773.8 258.8h0M773.9 257.1h0M774.0 258.2h0M774.2 252.0h0M774.3 250.8h0M774.4 259.3h0M774.5 258.5h0M774.7 252.1h0M774.8 259.8h0M774.9 262.7h0M775.0 255.8h0M775.2 260.5h0M775.3 259.5h0M775.4 253.0h0M775.5 260.9h0M775.6 252.3h0M775.8 258.5h0M775.9 258.1h0M776.0 262.7h0M776.2 258.4h0M776.3 255.1h0M776.4 252.4h0M776.5 254.2h0M776.7 258.3h0M776.8 258.5h0M776.9 255.1h0M777.0 259.2h0M777.1 257.4h0M777.3 259.8h0M777.4 257.2h0M777.6 252.3h0M777.7 260.8h0M777.8 257.1h0M777.9 256.2h0M778.0 253.2h0M778.2 258.7h0M778.3 260.3h0M778.4 253.0h0M778.5 252.5h0M778.6 261.9h0M778.8 260.6h0M778.9 255.4h0M779.0 253.3h0M779.2 259.4h0M779.3 258.2h0M779.4 257.2h0M779.5 254.2h0M779.6 252.8h0M779.8 260.8h0M779.9 256.6h0M780.0 257.8h0M780.1 258.9h0M780.3 257.8h0M780.4 258.7h0M780.6 256.4h0M780.7 259.0h0M780.8 258.6h0M781.0 254.0h0M781.0 261.0h0M781.2 256.7h0M781.3 261.0h0M781.4 261.1h0M781.6 257.7h0M781.6 258.4h0M781.8 260.2h0M781.9 259.2h0M782.0 258.6h0M782.2 254.0h0M782.3 256.2h0M782.4 255.2h0M782.5 251.5h0M782.6 253.7h0M782.8 253.6h0M782.9 253.0h0M783.0 253.0h0M783.2 251.4h0M783.3 260.6h0M783.4 260.3h0M783.6 252.2h0M783.7 260.1h0M783.8 256.3h0M784.0 254.5h0M784.1 255.3h0M784.2 253.8h0M784.3 252.8h0M784.4 254.4h0M784.6 253.3h0M784.6 257.9h0M784.8 254.7h0M784.9 259.8h0M785.1 253.4h0M785.2 252.9h0M785.3 256.1h0M785.5 258.0h0M785.5 257.5h0M785.7 257.5h0M785.8 256.6h0M786.0 255.7h0M786.1 255.7h0M786.1 252.9h0M786.3 255.6h0M786.4 253.6h0M786.5 254.3h0M786.6 254.3h0M786.8 258.8h0M786.9 255.8h0M787.1 257.5h0M787.2 251.7h0M787.3 255.3h0M787.5 256.5h0M787.6 251.0h0M787.6 255.6h0M787.8 257.9h0M788.0 256.1h0M788.1 256.0h0M788.2 250.5h0M788.3 258.5h0M788.4 252.9h0M788.5 252.2h0M788.7 251.4h0M788.8 252.1h0M788.9 251.1h0M789.1 251.9h0M789.2 259.6h0M789.3 256.4h0M789.4 255.8h0M789.6 257.2h0M789.7 253.1h0M789.8 255.1h0M789.9 259.6h0M790.0 248.7h0M790.2 258.3h0M790.3 249.8h0M790.4 258.2h0M790.6 259.2h0M790.7 257.3h0M790.8 257.5h0M790.9 253.4h0M791.0 251.1h0M791.1 256.0h0M791.3 255.8h0M791.4 259.7h0M791.5 257.6h0M791.6 257.6h0M791.8 251.9h0M791.9 254.5h0M792.1 252.3h0M792.2 257.5h0M792.3 252.8h0M792.5 257.0h0M792.5 252.1h0M792.6 257.0h0M792.8 251.7h0M792.9 251.3h0M793.0 246.3h0M793.2 252.2h0M793.3 253.2h0M793.5 253.6h0M793.5 253.4h0M793.7 246.3h0M793.8 251.6h0M794.0 251.1h0M794.0 245.9h0M794.2 257.2h0M794.3 247.6h0M794.4 256.9h0M794.6 248.8h0M794.7 247.9h0M794.8 258.5h0M794.9 248.4h0M795.0 248.7h0M795.2 255.8h0M795.3 258.4h0M795.4 247.2h0M795.5 249.0h0M795.7 248.2h0M795.8 246.3h0M796.0 257.8h0M796.1 247.7h0M796.2 249.8h0M796.3 255.8h0M796.4 257.1h0M796.6 248.0h0M796.7 249.1h0M796.8 259.8h0M797.0 250.2h0M797.0 248.9h0M797.2 248.4h0M797.3 256.1h0M797.4 251.7h0M797.5 249.0h0M797.7 250.2h0M797.8 254.0h0M797.9 259.9h0M798.1 251.9h0M798.2 249.8h0M798.3 248.9h0M798.4 252.1h0M798.6 254.5h0M798.7 259.2h0M798.8 250.7h0M798.9 257.4h0M799.0 253.8h0M799.2 253.3h0M799.3 260.1h0M799.4 258.4h0M799.6 254.2h0M799.7 258.8h0M799.8 253.4h0M799.9 254.2h0M800.1 254.0h0M800.2 260.8h0M800.3 257.2h0M800.5 261.1h0M800.6 254.0h0M800.7 255.8h0M800.8 260.3h0M801.0 260.8h0M801.0 259.6h0M801.2 256.3h0M801.3 254.3h0M801.5 259.3h0M801.6 260.4h0M801.7 261.4h0M801.8 261.7h0M801.9 257.0h0M802.0 253.6h0M802.2 256.2h0M802.3 255.8h0M802.5 256.3h0M802.6 257.7h0M802.7 256.9h0M802.8 259.1h0M802.9 259.2h0M803.0 255.3h0M803.1 260.2h0M803.3 255.8h0M803.4 256.5h0M803.5 257.9h0M803.7 260.9h0M803.8 258.2h0M803.9 257.5h0M804.1 259.5h0M804.1 256.4h0M804.3 261.7h0M804.5 259.4h0M804.6 257.5h0M804.7 258.6h0M804.8 259.0h0M804.9 257.7h0M805.0 262.9h0M805.1 259.8h0M805.3 260.7h0M805.4 262.8h0M805.6 261.9h0M805.7 260.2h0M805.8 256.6h0M805.9 260.0h0M806.0 262.4h0M806.1 261.1h0M806.3 262.9h0M806.4 264.8h0M806.5 263.0h0M806.7 262.9h0M806.8 264.0h0M806.9 260.5h0M807.1 265.2h0M807.2 263.3h0M807.3 258.2h0M807.4 257.6h0M807.6 263.7h0M807.6 264.9h0M807.8 264.1h0M807.9 267.2h0M808.1 260.0h0M808.2 259.1h0M808.3 267.2h0M808.4 262.3h0M808.6 264.1h0M808.6 257.4h0M808.8 268.2h0M808.9 266.5h0M809.0 262.9h0M809.2 260.6h0M809.3 264.7h0M809.4 266.4h0M809.5 269.5h0M809.7 261.0h0M809.8 258.6h0M810.0 260.5h0M810.0 258.7h0M810.1 255.8h0M810.3 256.6h0M810.4 269.1h0M810.5 257.3h0M810.6 260.5h0M810.8 263.4h0M811.0 264.1h0M811.1 271.3h0M811.2 259.5h0M811.3 267.1h0M811.4 269.3h0M811.5 267.1h0M811.7 265.1h0M811.8 265.5h0M811.9 261.0h0M812.0 267.4h0M812.2 264.7h0M812.3 267.5h0M812.5 262.5h0M812.5 270.2h0M812.7 271.5h0M812.8 261.1h0M812.9 261.4h0M813.1 262.8h0M813.1 261.7h0M813.3 272.8h0M813.5 267.2h0M813.5 264.2h0M813.7 266.3h0M813.8 265.1h0M813.9 255.3h0M814.1 264.5h0M814.2 272.0h0M814.3 263.8h0M814.5 262.1h0M814.6 265.9h0M814.6 257.3h0M814.8 268.7h0M814.9 255.9h0M815.1 270.5h0M815.2 262.3h0M815.3 260.5h0M815.5 265.1h0M815.5 264.9h0M815.7 268.1h0M815.8 267.7h0M815.9 266.3h0M816.1 269.1h0M816.2 270.9h0M816.3 269.7h0M816.4 260.8h0M816.5 259.1h0M816.6 258.6h0M816.8 257.9h0M817.0 268.7h0M817.0 269.0h0M817.2 267.0h0M817.3 266.7h0M817.4 261.7h0M817.6 260.8h0M817.7 265.3h0M817.8 269.7h0M817.9 264.8h0M818.0 258.8h0M818.2 263.0h0M818.3 264.2h0M818.4 260.0h0M818.6 262.1h0M818.6 259.8h0M818.8 266.8h0M818.9 265.7h0M819.0 261.2h0M819.2 264.2h0M819.3 265.6h0M819.4 268.2h0M819.6 263.6h0M819.7 260.1h0M819.8 269.0h0M819.9 265.6h0M820.0 266.6h0M820.1 259.4h0M820.3 267.0h0M820.5 269.3h0M820.6 259.0h0M820.7 263.9h0M820.8 270.5h0M821.0 262.0h0M821.0 262.5h0M821.2 261.9h0M821.3 269.6h0M821.4 266.9h0M821.5 265.7h0M821.7 263.3h0M821.8 258.6h0M821.9 269.1h0M822.1 263.1h0M822.2 261.2h0M822.3 257.1h0M822.5 260.5h0M822.6 263.2h0M822.7 270.8h0M822.8 265.0h0M822.9 257.0h0M823.0 260.8h0M823.2 257.0h0M823.3 269.7h0M823.4 256.6h0M823.6 263.6h0M823.7 270.4h0M823.8 265.0h0M823.9 270.8h0M824.1 267.2h0M824.2 257.9h0M824.3 260.2h0M824.4 257.7h0M824.5 267.5h0M824.7 262.7h0M824.8 258.5h0M825.0 269.0h0M825.0 263.2h0M825.2 269.2h0M825.3 264.9h0M825.4 259.8h0M825.6 268.5h0M825.7 264.4h0M825.8 263.1h0M826.0 257.2h0M826.1 264.3h0M826.2 266.6h0M826.3 259.8h0M826.4 265.1h0M826.5 260.7h0M826.6 267.5h0M826.8 258.6h0M827.0 264.2h0M827.1 256.3h0M827.2 257.8h0M827.3 266.6h0M827.4 264.4h0M827.5 265.2h0M827.6 266.4h0M827.8 266.7h0M828.0 266.0h0M828.1 265.8h0M828.2 257.2h0M828.3 258.6h0M828.4 259.2h0M828.5 264.7h0M828.6 261.6h0M828.8 266.9h0M829.0 262.7h0M829.1 259.2h0M829.1 263.7h0M829.3 264.4h0M829.4 258.8h0M829.6 261.4h0M829.7 259.3h0M829.8 264.6h0M830.0 265.2h0M830.0 260.6h0M830.2 258.9h0M830.3 256.9h0M830.5 260.1h0M830.6 259.2h0M830.6 258.5h0M830.8 262.4h0M830.9 263.7h0M831.0 258.8h0M831.2 265.5h0M831.3 264.4h0M831.4 266.5h0M831.5 264.3h0M831.7 260.8h0M831.8 262.9h0M831.9 262.4h0M832.0 263.4h0M832.2 263.3h0M832.3 259.7h0M832.4 260.8h0M832.6 259.3h0M832.6 261.1h0M832.8 260.0h0M833.0 260.5h0M833.0 261.2h0M833.2 262.8h0M833.3 260.3h0M833.4 266.3h0M833.5 260.2h0M833.6 262.4h0M833.8 262.4h0M833.9 260.1h0M834.0 266.9h0M834.2 263.6h0M834.3 264.5h0M834.4 262.5h0M834.5 267.6h0M834.7 265.5h0M834.8 263.9h0M834.9 261.6h0M835.0 263.1h0M835.1 264.3h0M835.3 267.5h0M835.5 260.9h0M835.6 261.1h0M835.7 266.3h0M835.8 261.4h0M835.9 264.3h0M836.1 266.2h0M836.2 264.7h0M836.3 262.8h0M836.4 259.9h0M836.6 261.9h0M836.6 265.0h0M836.8 264.5h0M836.9 260.2h0M837.0 263.9h0M837.2 262.5h0M837.3 263.2h0M837.4 261.7h0M837.5 266.4h0M837.7 263.1h0M837.8 262.9h0M837.9 265.8h0M838.0 264.7h0M838.2 263.5h0M838.3 262.9h0M838.4 262.7h0M838.5 263.1h0M838.7 263.5h0M838.8 262.4h0M839.0 265.8h0M839.0 262.7h0M839.2 264.6h0M839.3 261.0h0M839.4 263.3h0M839.6 263.0h0M839.7 264.2h0M839.8 265.1h0M839.9 264.4h0M840.1 262.7h0M840.2 262.1h0M840.3 260.7h0M840.4 265.8h0M840.6 263.4h0M840.6 263.4h0M840.8 265.1h0M840.9 261.7h0M841.0 263.2h0M841.2 258.7h0M841.3 261.5h0M841.4 264.3h0M841.5 263.4h0M841.6 265.2h0M841.8 263.1h0M841.9 264.6h0M842.0 263.1h0M842.2 264.6h0M842.3 263.7h0M842.4 259.6h0M842.6 260.1h0M842.6 258.5h0M842.8 259.3h0M842.9 259.2h0M843.1 258.8h0M843.1 258.9h0M843.3 258.9h0M843.4 261.9h0M843.6 262.6h0M843.6 262.9h0M843.8 264.9h0M843.9 257.6h0M844.1 259.8h0M844.2 263.0h0M844.3 256.5h0M844.4 262.3h0M844.5 259.4h0M844.7 263.7h0M844.8 257.2h0M844.9 259.8h0M845.0 260.5h0M845.2 258.1h0M845.3 263.9h0M845.4 257.1h0M845.6 259.6h0M845.6 263.9h0M845.8 260.6h0M845.9 264.0h0M846.1 259.3h0M846.2 260.5h0M846.3 259.0h0M846.4 257.6h0M846.5 261.5h0M846.7 263.2h0M846.8 259.4h0M847.0 258.7h0M847.1 261.7h0M847.2 263.4h0M847.3 259.4h0M847.4 261.7h0M847.5 256.6h0M847.6 257.3h0M847.8 264.0h0M847.9 257.0h0M848.0 261.6h0M848.1 256.8h0M848.3 264.4h0M848.5 257.8h0M848.5 261.3h0M848.6 256.7h0M848.8 256.1h0M848.9 257.4h0M849.1 261.9h0M849.2 258.2h0M849.3 262.5h0M849.5 259.7h0M849.5 261.9h0M849.6 263.1h0M849.8 262.3h0M850.0 256.3h0M850.0 256.4h0M850.1 261.4h0M850.3 258.3h0M850.5 255.6h0M850.5 261.2h0M850.6 261.7h0M850.8 256.9h0M850.9 262.5h0M851.1 255.2h0M851.2 260.0h0M851.3 256.8h0M851.4 255.7h0M851.6 258.4h0M851.7 260.3h0M851.8 257.3h0M851.9 260.1h0M852.0 252.4h0M852.2 259.5h0M852.3 260.0h0M852.4 257.5h0M852.5 258.5h0M852.7 251.2h0M852.8 250.4h0M853.0 245.6h0M853.1 247.9h0M853.2 248.8h0M853.3 256.6h0M853.4 252.2h0M853.5 251.9h0M853.6 249.7h0M853.8 252.5h0M853.9 256.0h0M854.0 258.1h0M854.1 257.7h0M854.3 256.8h0M854.5 246.2h0M854.6 245.1h0M854.7 257.6h0M854.8 245.0h0M854.9 239.9h0M855.1 253.8h0M855.2 248.0h0M855.3 250.5h0M855.4 251.2h0M855.6 246.7h0M855.6 257.5h0M855.8 242.0h0M855.9 258.4h0M856.0 250.8h0M856.2 254.8h0M856.3 253.0h0M856.5 252.3h0M856.5 251.7h0M856.6 242.1h0M856.8 249.1h0M857.0 244.4h0M857.0 242.2h0M857.2 243.3h0M857.3 250.5h0M857.4 241.2h0M857.5 254.3h0M857.7 255.6h0M857.8 244.9h0M857.9 244.5h0M858.0 244.0h0M858.2 250.5h0M858.3 249.4h0M858.4 246.0h0M858.5 252.6h0M858.7 248.9h0M858.8 244.7h0M858.9 250.4h0M859.0 244.1h0M859.1 243.8h0M859.3 242.8h0M859.4 248.1h0M859.5 249.1h0M859.7 248.9h0M859.8 250.8h0M859.9 246.3h0M860.1 246.0h0M860.2 252.1h0M860.3 247.9h0M860.5 245.6h0M860.6 249.5h0M860.7 252.8h0M860.8 249.4h0M860.9 253.0h0M861.1 248.1h0M861.2 251.9h0M861.3 245.7h0M861.4 248.8h0M861.6 256.9h0M861.6 255.6h0M861.8 247.8h0M861.9 248.3h0M862.0 247.9h0M862.1 257.1h0M862.3 249.5h0M862.4 250.5h0M862.5 256.3h0M862.6 253.9h0M862.8 253.6h0M863.0 257.8h0M863.1 250.6h0M863.2 254.6h0M863.3 253.2h0M863.4 260.1h0M863.5 251.5h0M863.6 249.4h0M863.8 256.3h0M863.9 250.8h0M864.1 259.8h0M864.2 257.5h0M864.3 250.1h0M864.4 248.3h0M864.6 256.4h0M864.6 250.2h0M864.8 255.4h0M864.9 259.2h0M865.0 258.3h0M865.2 255.9h0M865.3 256.8h0M865.4 253.1h0M865.6 253.4h0M865.7 257.3h0M865.8 250.6h0M866.0 253.6h0M866.1 257.1h0M866.2 256.6h0M866.3 255.9h0M866.4 254.7h0M866.6 258.7h0M866.7 251.2h0M866.8 255.9h0M866.9 255.0h0M867.1 255.0h0M867.1 259.0h0M867.3 253.9h0M867.4 259.4h0M867.5 261.0h0M867.7 253.8h0M867.8 254.6h0M867.9 258.0h0M868.0 260.6h0M868.1 250.6h0M868.3 253.1h0M868.4 259.5h0M868.5 255.9h0M868.7 256.8h0M868.8 254.7h0M868.9 250.8h0M869.1 255.3h0M869.2 255.1h0M869.3 257.6h0M869.4 249.8h0M869.6 261.7h0M869.7 261.0h0M869.8 255.8h0M869.9 261.3h0M870.0 253.3h0M870.1 261.9h0M870.3 251.6h0M870.4 260.7h0M870.5 250.5h0M870.7 252.8h0M870.8 251.5h0M870.9 249.9h0M871.0 262.8h0M871.2 250.7h0M871.3 252.2h0M871.4 259.2h0M871.6 257.3h0M871.6 262.9h0M871.8 257.9h0M871.9 260.9h0M872.1 248.0h0M872.1 248.8h0M872.3 263.4h0M872.4 261.8h0M872.5 260.6h0M872.7 259.6h0M872.8 261.7h0M872.9 255.7h0M873.1 257.8h0M873.2 248.7h0M873.3 264.0h0M873.4 260.4h0M873.6 257.5h0M873.6 255.1h0M873.8 256.3h0M874.0 262.8h0M874.0 260.8h0M874.1 246.6h0M874.3 249.4h0M874.4 251.3h0M874.5 262.5h0M874.6 244.8h0M874.8 259.3h0M874.9 251.1h0M875.0 259.5h0M875.2 255.5h0M875.3 251.5h0M875.4 251.2h0M875.5 251.5h0M875.6 247.7h0M875.8 258.6h0M875.9 260.6h0M876.1 254.3h0M876.1 258.3h0M876.3 253.8h0M876.4 255.0h0M876.6 248.6h0M876.7 260.4h0M876.8 248.5h0M876.9 245.9h0M877.1 246.8h0M877.2 248.0h0M877.3 257.6h0M877.4 249.2h0M877.5 252.0h0M877.6 246.1h0M877.8 253.4h0M877.9 253.4h0M878.0 248.5h0M878.2 254.9h0M878.3 260.3h0M878.5 247.6h0M878.5 261.1h0M878.7 252.1h0M878.8 255.6h0M878.9 247.6h0M879.1 249.4h0M879.2 253.0h0M879.3 252.0h0M879.4 257.9h0M879.6 254.6h0M879.6 255.7h0M879.8 257.8h0M879.9 248.3h0M880.0 251.4h0M880.2 255.5h0M880.3 245.9h0M880.5 250.1h0M880.6 249.6h0M880.6 258.6h0M880.8 252.9h0M880.9 256.3h0M881.1 253.0h0M881.2 254.2h0M881.3 253.4h0M881.4 256.7h0M881.5 260.4h0M881.7 251.4h0M881.8 253.0h0M882.0 252.5h0M882.1 249.8h0M882.1 256.8h0M882.3 254.7h0M882.4 253.1h0M882.6 257.7h0M882.6 247.8h0M882.8 245.8h0M882.9 249.4h0M883.1 258.3h0M883.2 258.7h0M883.3 246.8h0M883.4 247.5h0M883.5 258.1h0M883.7 248.7h0M883.8 253.0h0M884.0 256.5h0M884.0 254.8h0M884.2 250.5h0M884.3 259.0h0M884.5 254.5h0M884.5 256.7h0M884.7 258.0h0M884.8 247.0h0M884.9 247.3h0M885.0 246.6h0M885.2 250.4h0M885.3 250.4h0M885.5 245.7h0M885.6 252.0h0M885.7 250.4h0M885.8 251.7h0M885.9 247.5h0M886.0 256.5h0M886.2 255.1h0M886.3 255.0h0M886.5 256.0h0M886.5 254.0h0M886.7 246.5h0M886.8 245.4h0M886.9 246.1h0M887.1 247.1h0M887.1 255.7h0M887.3 248.8h0M887.5 253.9h0M887.6 252.6h0M887.7 253.4h0M887.8 254.6h0M887.9 248.9h0M888.0 253.5h0M888.2 251.0h0M888.3 246.5h0M888.4 251.7h0M888.5 249.1h0M888.7 251.0h0M888.8 250.2h0M888.9 246.0h0M889.1 250.7h0M889.2 247.1h0M889.3 246.0h0M889.4 253.3h0M889.6 252.4h0M889.7 253.8h0M889.8 254.7h0M889.9 246.5h0M890.1 249.2h0M890.2 252.9h0M890.3 252.2h0M890.5 245.9h0M890.5 249.5h0M890.7 250.4h0M890.8 254.4h0M890.9 249.7h0M891.1 252.6h0M891.1 246.6h0M891.3 248.9h0M891.4 252.1h0M891.6 253.3h0M891.7 252.3h0M891.8 248.8h0M892.0 247.4h0M892.1 250.6h0M892.2 246.6h0M892.3 248.9h0M892.4 248.5h0M892.5 253.1h0M892.7 246.8h0M892.8 250.1h0M892.9 247.8h0M893.0 250.5h0M893.1 247.2h0M893.3 249.6h0M893.5 251.2h0M893.6 251.6h0M893.7 249.2h0M893.8 250.3h0M893.9 247.6h0M894.0 251.8h0M894.2 249.9h0M894.3 250.7h0M894.4 250.4h0M894.5 248.8h0M894.6 250.9h0M894.8 245.2h0M894.9 249.1h0M895.1 250.6h0M895.2 247.0h0M895.3 248.3h0M895.5 245.5h0M895.5 249.3h0M895.7 250.6h0M895.8 247.9h0M895.9 246.1h0M896.1 244.2h0M896.2 246.3h0M896.3 249.8h0M896.4 248.4h0M896.5 248.6h0M896.7 246.5h0M896.8 243.5h0M896.9 246.4h0M897.0 246.7h0M897.2 247.9h0M897.3 248.6h0M897.4 244.2h0M897.5 248.1h0M897.7 244.2h0M897.8 247.0h0M898.0 246.2h0M898.0 248.6h0M898.2 247.4h0M898.3 243.3h0M898.4 246.9h0M898.5 244.2h0M898.7 240.6h0M898.8 245.7h0M898.9 245.8h0M899.0 246.8h0M899.1 245.8h0M899.3 246.9h0M899.4 240.1h0M899.6 248.4h0M899.7 245.1h0M899.8 244.3h0M899.9 242.4h0M900.1 247.3h0M900.2 241.8h0M900.3 243.3h0M900.4 243.3h0M900.5 242.0h0M900.7 244.1h0M900.8 244.4h0M901.0 249.4h0M901.0 247.2h0M901.2 246.7h0M901.3 241.5h0M901.4 248.5h0M901.6 247.9h0M901.7 238.4h0M901.8 244.7h0M901.9 239.4h0M902.1 238.9h0M902.2 241.2h0M902.3 250.3h0M902.4 249.0h0M902.6 238.6h0M902.7 238.8h0M902.8 254.1h0M902.9 243.3h0M903.1 246.9h0M903.1 251.2h0M903.3 248.4h0M903.4 249.9h0M903.6 252.8h0M903.7 252.7h0M903.8 240.4h0M903.9 245.6h0M904.0 253.6h0M904.1 255.5h0M904.3 251.7h0M904.5 238.2h0M904.5 244.2h0M904.7 251.1h0M904.8 239.0h0M905.0 245.2h0M905.1 239.0h0M905.2 244.6h0M905.3 254.9h0M905.4 245.9h0M905.6 238.5h0M905.7 245.5h0M905.8 250.5h0M905.9 239.3h0M906.0 251.7h0M906.1 240.8h0M906.3 250.2h0M906.5 241.1h0M906.6 250.8h0M906.7 240.9h0M906.8 239.4h0M906.9 240.8h0M907.1 242.8h0M907.1 240.3h0M907.3 250.7h0M907.4 252.7h0M907.5 242.9h0M907.6 240.1h0M907.8 239.3h0M907.9 247.3h0M908.0 248.5h0M908.1 242.0h0M908.3 244.4h0M908.4 238.9h0M908.5 246.0h0M908.6 248.7h0M908.8 247.4h0M908.9 238.9h0M909.1 245.2h0M909.2 247.9h0M909.3 240.6h0M909.4 252.2h0M909.5 242.2h0M909.6 244.5h0M909.8 251.6h0M909.9 245.8h0M910.0 250.9h0M910.2 247.8h0M910.3 240.9h0M910.5 241.2h0M910.5 249.1h0M910.7 251.7h0M910.8 248.7h0M910.9 245.7h0M911.0 251.4h0M911.2 245.5h0M911.3 246.1h0M911.4 243.1h0M911.6 241.8h0M911.7 247.6h0M911.8 246.2h0M911.9 247.9h0M912.1 251.4h0M912.1 244.7h0M912.3 245.4h0M912.4 250.3h0M912.5 248.2h0M912.7 251.9h0M912.8 253.4h0M912.9 244.1h0M913.0 255.9h0M913.1 250.9h0M913.3 251.5h0M913.5 244.8h0M913.5 250.1h0M913.7 256.2h0M913.8 248.5h0M914.0 247.3h0M914.1 249.5h0M914.2 248.2h0M914.3 244.8h0M914.5 252.5h0M914.5 246.4h0M914.7 244.9h0M914.8 250.6h0M914.9 257.6h0M915.0 252.4h0M915.2 245.7h0M915.3 252.4h0M915.5 251.0h0M915.6 256.4h0M915.7 252.8h0M915.8 252.0h0M916.0 251.4h0M916.1 251.6h0M916.2 255.5h0M916.3 249.2h0M916.5 251.7h0M916.6 251.0h0M916.6 254.9h0M916.8 253.1h0M916.9 259.4h0M917.1 259.5h0M917.2 251.7h0M917.3 257.2h0M917.4 254.8h0M917.5 256.4h0M917.7 253.1h0M917.8 252.9h0M917.9 252.5h0M918.1 254.0h0M918.2 251.4h0M918.3 260.1h0M918.4 252.3h0M918.6 256.0h0M918.7 252.4h0M918.8 253.4h0M918.9 259.5h0M919.0 256.4h0M919.2 260.9h0M919.3 259.1h0M919.4 255.3h0M919.6 253.6h0M919.7 255.7h0M919.8 254.3h0M920.0 249.3h0M920.1 257.1h0M920.2 251.9h0M920.3 248.4h0M920.4 256.0h0M920.5 251.3h0M920.7 256.2h0M920.8 254.4h0M920.9 257.6h0M921.1 251.2h0M921.2 255.5h0M921.3 257.4h0M921.4 253.7h0M921.5 259.6h0M921.7 250.0h0M921.8 250.7h0M921.9 248.3h0M922.0 256.8h0M922.2 258.9h0M922.3 247.3h0M922.4 251.8h0M922.6 252.2h0M922.7 250.8h0M922.8 246.1h0M922.9 254.1h0M923.1 253.8h0M923.2 248.1h0M923.3 248.3h0M923.4 244.9h0M923.6 255.7h0M923.7 250.3h0M923.8 255.4h0M923.9 253.9h0M924.1 248.0h0M924.1 244.8h0M924.3 255.6h0M924.5 253.9h0M924.6 250.7h0M924.6 247.4h0M924.8 254.3h0M924.9 247.9h0M925.1 247.6h0M925.2 250.3h0M925.3 255.3h0M925.4 253.3h0M925.5 254.9h0M925.6 251.7h0M925.8 248.9h0M926.0 241.5h0M926.0 251.0h0M926.2 249.3h0M926.3 243.5h0M926.4 245.3h0M926.5 255.8h0M926.7 244.4h0M926.8 260.3h0M926.9 253.1h0M927.1 247.6h0M927.1 243.2h0M927.3 255.3h0M927.5 247.2h0M927.6 248.9h0M927.7 241.1h0M927.8 261.7h0M927.9 250.3h0M928.1 238.8h0M928.2 237.2h0M928.3 238.9h0M928.4 255.5h0M928.6 254.2h0M928.6 238.5h0M928.8 238.3h0M928.9 241.3h0M929.0 244.5h0M929.2 244.6h0M929.3 262.6h0M929.4 250.2h0M929.6 259.2h0M929.7 256.2h0M929.8 241.8h0M929.9 248.0h0M930.0 237.2h0M930.1 240.5h0M930.3 258.6h0M930.5 251.7h0M930.5 260.1h0M930.7 263.4h0M930.8 250.1h0M930.9 240.1h0M931.1 238.5h0M931.2 245.3h0M931.3 258.5h0M931.4 261.6h0M931.5 255.1h0M931.7 252.2h0M931.8 251.8h0M931.9 244.8h0M932.0 260.3h0M932.2 265.2h0M932.3 264.8h0M932.5 244.9h0M932.6 255.6h0M932.7 267.1h0M932.8 265.8h0M932.9 261.3h0M933.1 245.5h0M933.2 247.7h0M933.3 243.7h0M933.5 258.0h0M933.6 256.8h0M933.7 241.0h0M933.8 244.9h0M933.9 248.7h0M934.1 249.4h0M934.1 243.4h0M934.3 267.2h0M934.4 262.7h0M934.6 252.9h0M934.7 261.5h0M934.8 260.0h0M935.0 251.4h0M935.0 247.1h0M935.1 264.4h0M935.3 243.0h0M935.5 247.9h0M935.5 255.7h0M935.7 258.0h0M935.8 250.6h0M935.9 258.5h0M936.1 258.0h0M936.2 250.0h0M936.3 265.9h0M936.4 245.8h0M936.5 258.6h0M936.7 263.0h0M936.8 265.0h0M936.9 246.1h0M937.0 254.5h0M937.2 257.9h0M937.3 248.5h0M937.4 256.2h0M937.6 252.0h0M937.7 256.2h0M937.8 256.1h0M938.0 261.0h0M938.0 257.6h0M938.2 259.9h0M938.3 262.9h0M938.4 258.4h0M938.5 259.9h0M938.7 262.9h0M938.8 250.5h0M938.9 255.5h0M939.1 243.9h0M939.2 258.3h0M939.3 259.1h0M939.4 247.8h0M939.5 250.1h0M939.7 261.0h0M939.8 248.6h0M939.9 245.9h0M940.1 247.9h0M940.2 245.4h0M940.3 255.9h0M940.4 257.6h0M940.5 248.3h0M940.7 258.3h0M940.8 247.7h0M940.9 252.9h0M941.1 259.9h0M941.2 252.9h0M941.3 261.9h0M941.4 256.1h0M941.6 246.4h0M941.7 260.1h0M941.8 263.7h0M941.9 254.6h0M942.0 255.3h0M942.1 247.4h0M942.3 247.9h0M942.4 250.2h0M942.6 246.1h0M942.7 248.5h0M942.8 255.6h0M942.9 260.5h0M943.1 252.3h0M943.2 249.9h0M943.3 248.5h0M943.4 262.0h0M943.5 254.9h0M943.7 253.1h0M943.8 257.6h0M943.9 252.4h0M944.1 255.5h0M944.2 261.1h0M944.3 255.7h0M944.5 264.6h0M944.6 259.9h0M944.7 261.1h0M944.8 248.8h0M944.9 253.4h0M945.0 260.9h0M945.2 255.9h0M945.3 249.0h0M945.4 256.1h0M945.6 261.8h0M945.7 249.3h0M945.8 253.2h0M946.0 259.5h0M946.0 256.1h0M946.1 252.1h0M946.3 259.2h0M946.4 248.8h0M946.5 249.9h0M946.7 251.6h0M946.8 255.5h0M946.9 258.7h0M947.1 256.3h0M947.1 256.2h0M947.3 262.6h0M947.4 263.6h0M947.5 253.4h0M947.6 248.1h0M947.8 252.8h0M948.0 261.3h0M948.1 248.5h0M948.2 248.2h0M948.3 267.1h0M948.4 250.6h0M948.5 259.4h0M948.7 266.4h0M948.8 247.7h0M949.0 248.3h0M949.1 257.3h0M949.1 256.2h0M949.3 249.2h0M949.5 249.4h0M949.6 258.0h0M949.6 268.4h0M949.8 252.6h0M950.0 258.3h0M950.1 261.2h0M950.2 254.4h0M950.3 265.7h0M950.5 254.3h0M950.5 257.7h0M950.7 263.1h0M950.8 246.5h0M950.9 251.7h0M951.1 253.5h0M951.2 246.5h0M951.3 263.2h0M951.4 258.7h0M951.5 265.8h0M951.7 263.4h0M951.8 262.3h0M951.9 261.9h0M952.1 263.1h0M952.2 269.6h0M952.3 255.4h0M952.4 258.5h0M952.6 252.3h0M952.7 258.9h0M952.8 266.4h0M953.0 249.4h0M953.0 266.1h0M953.2 261.6h0M953.3 259.3h0M953.5 258.8h0M953.5 252.2h0M953.6 248.9h0M953.8 260.5h0M953.9 250.0h0M954.0 256.8h0M954.2 257.6h0M954.3 255.9h0M954.4 269.0h0M954.5 253.5h0M954.6 264.4h0M954.8 246.0h0M954.9 264.9h0M955.1 259.2h0M955.2 264.6h0M955.3 262.2h0M955.5 263.5h0M955.6 246.2h0M955.7 258.5h0M955.8 266.6h0M955.9 247.4h0M956.0 265.8h0M956.2 268.6h0M956.3 256.7h0M956.4 270.1h0M956.6 245.7h0M956.7 272.6h0M956.8 271.8h0M957.0 249.9h0M957.1 245.2h0M957.2 265.5h0M957.3 253.7h0M957.4 272.8h0M957.5 263.9h0M957.6 263.1h0M957.8 257.2h0M958.0 267.6h0M958.1 254.7h0M958.2 254.2h0M958.3 253.0h0M958.4 249.7h0M958.6 246.1h0M958.7 263.5h0M958.8 252.3h0M959.0 245.2h0M959.1 273.9h0M959.2 265.8h0M959.3 270.8h0M959.4 253.2h0M959.6 249.2h0M959.7 250.0h0M959.8 257.5h0M960.0 269.7h0M960.0 251.0h0M960.1 264.6h0M960.3 250.1h0M960.5 258.4h0M960.6 248.2h0M960.7 260.5h0M960.8 256.2h0M960.9 253.3h0M961.0 266.2h0M961.1 271.6h0M961.3 256.4h0M961.5 250.5h0M961.6 269.4h0M961.7 247.9h0M961.8 262.6h0M962.0 247.3h0M962.0 247.6h0M962.2 267.6h0M962.3 270.7h0M962.4 264.3h0M962.5 257.0h0M962.7 247.2h0M962.8 261.6h0M962.9 255.6h0M963.1 270.1h0M963.2 264.8h0M963.3 248.3h0M963.4 249.5h0M963.6 248.1h0M963.7 252.4h0M963.8 248.8h0M963.9 256.1h0M964.1 260.4h0M964.1 262.0h0M964.3 254.2h0M964.4 271.3h0M964.5 269.5h0M964.7 261.7h0M964.8 258.1h0M965.0 269.0h0M965.1 250.9h0M965.2 263.1h0M965.3 251.1h0M965.4 263.5h0M965.5 249.7h0M965.6 255.7h0M965.8 264.3h0M966.0 255.2h0M966.1 265.1h0M966.2 252.9h0M966.3 264.7h0M966.4 262.9h0M966.5 261.2h0M966.7 266.6h0M966.8 260.7h0M966.9 252.1h0M967.1 269.0h0M967.2 259.2h0M967.3 260.9h0M967.4 263.1h0M967.6 267.1h0M967.6 257.5h0M967.8 264.4h0M967.9 262.3h0M968.0 262.9h0M968.2 253.6h0M968.3 256.4h0M968.5 257.4h0M968.5 252.6h0M968.7 262.3h0M968.8 262.1h0M968.9 253.3h0M969.1 254.1h0M969.2 258.7h0M969.3 256.3h0M969.4 259.5h0M969.6 261.2h0M969.7 263.7h0M969.8 263.6h0M969.9 254.2h0M970.1 263.6h0M970.2 258.8h0M970.3 258.1h0M970.4 256.1h0M970.5 254.6h0M970.7 256.9h0M970.8 255.2h0M770.6 267.2h0M777.2 266.1h0M855.6 262.3h0M779.9 264.0h0M835.3 270.8h0M715.8 260.5h0M953.6 272.9h0M797.8 264.0h0M946.9 270.9h0M772.7 267.3h0M945.5 267.1h0M736.7 263.9h0M964.1 274.3h0M944.3 266.9h0M818.2 270.4h0M754.9 268.7h0M895.0 251.5h0M861.3 256.5h0M745.1 266.4h0M960.5 275.2h0M884.6 260.3h0M839.9 267.6h0M888.5 259.2h0M927.2 262.8h0M769.5 266.6h0M760.2 268.9h0M845.6 268.3h0M845.1 268.3h0M781.9 263.2h0M750.2 269.8h0M849.0 267.6h0M736.1 260.5h0M899.6 252.9h0M740.7 265.8h0M804.9 263.7h0M781.1 265.5h0M771.0 266.7h0M794.3 260.3h0M934.0 270.1h0M726.2 262.0h0M768.2 266.9h0M965.8 270.7h0M853.7 265.5h0M852.8 266.8h0M955.8 274.4h0M739.4 261.6h0M922.4 260.8h0M799.5 262.2h0M892.8 254.1h0M911.8 256.3h0M733.3 260.6h0M912.0 258.3h0M889.8 256.4h0M732.9 261.0h0M731.0 260.4h0M932.4 269.3h0M890.7 256.0h0M887.0 260.7h0M930.6 266.0h0M816.7 271.9h0M860.9 256.1h0M874.4 267.0h0M832.5 272.5h0M749.0 270.0h0M889.5 256.0h0M784.6 264.0h0M754.3 269.6h0M876.2 265.0h0M795.4 260.3h0M958.7 274.8h0M750.5 267.6h0M876.9 266.8h0M874.8 265.0h0M931.5 269.3h0M771.3 265.4h0M861.5 257.2h0M778.3 263.6h0M745.3 268.2h0M963.3 273.3h0M962.5 275.4h0M810.4 272.7h0M836.2 270.9h0M961.8 277.5h0M894.6 251.5h0M943.3 268.4h0M742.6 265.0h0M843.8 265.9h0M948.3 270.2h0M804.3 264.1h0M813.2 275.3h0M862.7 259.6h0M846.0 268.7h0M962.8 275.9h0M731.2 262.2h0M810.2 273.4h0M940.4 265.1h0M944.7 266.4h0M834.2 270.1h0M919.3 262.7h0M772.4 266.7h0M911.3 257.5h0M740.1 264.5h0M828.6 269.6h0M820.2 273.2h0M845.2 266.5h0M756.4 266.7h0M758.7 267.9h0M739.2 264.0h0M839.6 268.8h0M796.5 261.7h0M943.2 268.8h0M879.2 264.7h0M855.4 263.5h0M750.3 268.3h0M942.9 266.8h0M805.3 264.4h0M855.5 260.0h0M768.6 268.7h0M799.4 261.1h0M793.4 260.8h0M815.3 273.4h0M799.3 262.0h0M862.8 262.1h0M868.1 264.7h0M939.1 263.6h0M721.0 260.3h0M737.5 264.0h0M745.7 265.7h0M880.9 262.3h0M742.5 263.7h0M817.0 272.0h0M714.9 262.5h0M911.8 256.5h0M949.2 271.1h0M816.9 272.8h0M786.1 261.3h0M813.3 273.9h0M892.6 254.3h0M928.9 267.8h0M932.1 267.7h0M856.4 260.4h0M734.8 261.9h0M790.6 260.3h0M850.2 267.4h0M815.2 273.6h0M755.4 269.7h0M805.3 266.3h0M947.7 268.8h0M837.0 268.5h0M754.4 267.0h0M909.7 254.0h0M865.0 261.8h0M835.1 269.3h0M969.0 266.6h0M724.4 262.6h0M872.7 265.2h0M918.3 263.5h0M715.1 259.5h0M898.9 250.7h0M952.5 270.7h0M888.5 258.3h0M903.8 258.6h0M720.7 259.9h0M729.0 260.1h0M836.2 270.8h0M772.6 265.7h0M722.3 261.0h0M906.2 258.3h0M938.6 264.2h0M928.6 264.0h0M822.5 271.9h0M882.1 260.2h0M755.6 269.7h0M938.5 265.0h0M760.6 267.6h0M889.3 256.0h0M883.1 261.5h0M728.5 261.3h0M872.4 267.6h0M971.2 369.2h0M971.2 341.6h0M971.3 340.5h0M971.4 342.1h0M971.4 363.3h0M971.5 363.1h0M971.5 341.8h0M971.6 344.9h0M971.6 349.9h0M971.7 332.5h0M971.8 344.5h0M971.8 350.1h0M971.9 355.5h0M971.9 370.7h0M972.0 351.2h0M972.0 361.8h0M972.1 356.8h0M972.2 356.2h0M972.2 352.2h0M972.2 364.2h0M972.3 351.4h0M972.4 339.9h0M972.4 354.8h0M972.5 369.3h0M972.5 343.6h0M972.6 371.7h0M972.6 348.9h0M972.7 335.3h0M972.8 346.8h0M972.8 340.0h0M972.9 357.4h0M972.9 372.9h0M973.0 375.0h0M973.0 337.6h0M973.0 335.0h0M973.1 364.2h0M973.2 340.6h0M973.3 335.4h0M973.3 360.0h0M973.4 370.5h0M973.4 345.3h0M973.5 373.9h0M973.6 345.3h0M973.6 353.2h0M973.6 342.4h0M973.7 352.1h0M973.8 346.4h0M973.8 350.3h0M973.9 374.0h0M973.9 333.4h0M973.9 330.7h0M974.0 338.4h0M974.1 363.2h0M974.2 342.6h0M974.2 344.4h0M974.2 365.3h0M974.3 359.1h0M974.4 346.2h0M974.5 333.2h0M974.5 357.5h0M974.5 344.8h0M974.6 368.8h0M974.6 375.4h0M974.7 360.0h0M974.8 344.9h0M974.8 338.8h0M974.9 345.0h0M975.0 372.1h0M975.0 372.9h0M975.0 348.5h0M975.1 356.6h0M975.1 369.2h0M975.2 343.7h0M975.2 369.4h0M975.3 360.9h0M975.3 349.7h0M975.4 359.9h0M975.5 355.3h0M975.5 339.6h0M975.6 333.7h0M975.6 365.0h0M975.7 345.9h0M975.8 344.9h0M975.8 367.9h0M975.9 357.3h0M975.9 350.2h0M976.0 369.5h0M976.1 347.5h0M976.1 341.8h0M976.2 358.3h0M976.2 340.0h0M976.3 357.5h0M976.3 346.4h0M976.3 349.5h0M976.4 333.7h0M976.5 371.8h0M976.6 333.2h0M976.6 366.4h0M976.6 339.5h0M976.7 330.7h0M976.8 366.3h0M976.9 351.1h0M976.9 334.9h0M976.9 352.1h0M977.0 349.8h0M977.1 368.8h0M977.1 369.7h0M977.1 374.4h0M977.3 337.5h0M977.3 377.2h0M977.3 362.5h0M977.3 338.9h0M977.4 373.1h0M977.5 353.2h0M977.5 339.3h0M977.6 329.9h0M977.7 347.9h0M977.7 350.1h0M977.7 328.0h0M977.8 335.1h0M977.8 339.7h0M977.9 358.6h0M978.0 357.5h0M978.0 347.0h0M978.1 331.5h0M978.1 339.5h0M978.2 336.1h0M978.2 345.0h0M978.3 329.9h0M978.4 365.5h0M978.5 328.6h0M978.5 375.2h0M978.5 378.3h0M978.6 358.3h0M978.6 370.0h0M978.7 335.5h0M978.8 354.4h0M978.8 337.0h0M978.9 337.4h0M978.9 375.0h0M979.0 338.8h0M979.0 376.8h0M979.1 346.9h0M979.1 378.4h0M979.2 337.2h0M979.3 352.7h0M979.3 352.4h0M979.3 352.5h0M979.4 370.0h0M979.5 342.1h0M979.6 341.9h0M979.6 379.2h0M979.7 355.3h0M979.7 351.1h0M979.8 361.0h0M979.8 342.3h0M979.8 362.3h0M979.9 351.1h0M980.0 347.7h0M980.1 373.1h0M980.1 345.9h0M980.2 374.3h0M980.2 373.4h0M980.2 329.5h0M980.3 371.7h0M980.4 357.6h0M980.4 351.9h0M980.5 341.2h0M980.6 342.6h0M980.6 333.5h0M980.6 366.5h0M980.7 328.3h0M980.8 349.3h0M980.8 363.0h0M980.8 333.3h0M980.9 349.7h0M981.0 373.0h0M981.0 352.4h0M981.1 355.6h0M981.1 360.1h0M981.2 374.9h0M981.3 343.1h0M981.3 336.1h0M981.4 366.7h0M981.4 350.0h0M981.5 361.9h0M981.5 370.4h0M981.6 349.0h0M981.6 369.7h0M981.7 362.2h0M981.8 339.0h0M981.9 367.7h0M981.9 358.1h0M981.9 324.8h0M982.0 328.9h0M982.0 366.4h0M982.1 360.7h0M982.2 370.5h0M982.2 371.5h0M982.3 350.1h0M982.3 357.6h0M982.4 339.7h0M982.4 370.5h0M982.5 338.9h0M982.6 366.4h0M982.6 353.7h0M982.7 339.9h0M982.7 357.5h0M982.8 370.7h0M982.9 364.2h0M982.9 333.2h0M983.0 373.9h0M983.0 336.9h0M983.0 322.9h0M983.1 367.5h0M983.1 346.3h0M983.3 322.5h0M983.3 340.8h0M983.3 346.3h0M983.4 363.3h0M983.4 359.1h0M983.5 360.1h0M983.5 334.1h0M983.6 345.3h0M983.7 352.8h0M983.7 357.9h0M983.8 332.7h0M983.8 331.4h0M983.9 358.1h0M983.9 332.6h0M984.0 327.7h0M984.0 358.0h0M984.1 374.9h0M984.2 348.3h0M984.3 328.9h0M984.3 370.6h0M984.3 372.8h0M984.4 331.3h0M984.4 352.2h0M984.5 345.0h0M984.6 356.3h0M984.6 336.9h0M984.7 371.1h0M984.7 375.2h0M984.7 358.5h0M984.9 358.5h0M984.8 365.3h0M985.0 344.3h0M985.0 334.9h0M985.0 351.7h0M985.1 375.7h0M985.1 344.8h0M985.3 357.3h0M985.3 355.7h0M985.3 341.4h0M985.4 359.6h0M985.4 349.7h0M985.5 362.6h0M985.5 358.8h0M985.6 337.2h0M985.7 376.2h0M985.7 365.2h0M985.8 342.2h0M985.8 343.6h0M985.9 358.7h0M985.9 370.2h0M986.0 378.9h0M986.1 376.9h0M986.1 339.5h0M986.2 336.4h0M986.2 370.7h0M986.3 356.9h0M986.4 370.8h0M986.4 355.5h0M986.4 347.3h0M986.5 375.4h0M986.6 334.0h0M986.6 363.4h0M986.7 371.9h0M986.7 364.7h0M986.7 355.8h0M986.9 346.2h0M986.8 366.5h0M987.0 379.2h0M987.0 351.0h0M987.0 367.4h0M987.1 335.4h0M987.2 357.2h0M987.2 335.9h0M987.3 337.2h0M987.4 356.6h0M987.4 365.7h0M987.4 366.2h0M987.5 366.6h0M987.6 342.4h0M987.6 364.9h0M987.6 340.4h0M987.7 349.4h0M987.7 346.3h0M987.8 369.8h0M987.9 381.5h0M988.0 347.2h0M988.0 344.3h0M988.0 348.1h0M988.1 346.5h0M988.2 355.6h0M988.3 375.0h0M988.3 340.5h0M988.3 362.4h0M988.4 358.6h0M988.4 346.4h0M988.5 356.5h0M988.6 358.8h0M988.6 358.5h0M988.7 345.0h0M988.7 348.2h0M988.8 380.5h0M988.8 349.6h0M988.9 369.2h0M988.9 378.6h0M989.0 366.3h0M989.1 347.3h0M989.1 385.5h0M989.1 362.1h0M989.2 362.2h0M989.2 359.2h0M989.4 360.1h0M989.3 344.7h0M989.5 355.2h0M989.5 376.3h0M989.6 383.1h0M989.6 386.8h0M989.7 345.6h0M989.7 375.3h0M989.8 380.6h0M989.8 385.5h0M989.9 372.4h0M990.0 346.7h0M990.0 354.4h0M990.1 374.0h0M990.2 359.1h0M990.2 376.7h0M990.3 378.9h0M990.3 371.5h0M990.4 364.7h0M990.3 362.4h0M990.4 364.8h0M990.5 369.3h0M990.6 353.9h0M990.6 363.7h0M990.6 352.5h0M990.8 352.6h0M990.7 384.7h0M990.8 351.1h0M990.9 369.0h0M990.9 379.8h0M991.0 348.4h0M991.0 349.8h0M991.1 351.1h0M991.2 346.2h0M991.3 365.6h0M991.3 368.4h0M991.3 388.2h0M991.4 378.2h0M991.5 372.8h0M991.5 366.2h0M991.5 384.1h0M991.6 367.1h0M991.7 384.2h0M991.7 350.7h0M991.7 372.7h0M991.9 379.3h0M991.9 385.5h0M991.9 374.5h0M992.0 364.4h0M492.6 315.3h0M492.6 387.4h0M492.6 434.3h0M492.6 466.5h0M513.4 345.5h0M521.6 371.3h0M533.2 347.4h0M541.4 350.2h0M541.4 382.4h0M543.3 402.2h0M549.3 380.5h0M549.3 450.4h0M560.0 324.4h0M561.3 327.2h0M560.6 360.6h0M563.1 366.0h0M560.3 401.3h0M563.1 485.4h0M570.4 408.2h0M570.4 418.3h0M574.2 357.2h0M574.2 389.3h0M582.4 315.3h0M590.2 365.7h0M590.2 370.4h0M597.2 324.4h0M611.3 314.0h0M615.1 367.2h0M615.1 463.3h0M626.1 312.8h0M635.3 323.1h0M635.3 383.3h0M634.3 452.3h0M634.3 474.3h0M643.1 359.4h0M643.1 421.4h0M656.4 426.1h0M657.3 354.3h0M659.2 364.4h0M659.2 380.5h0M659.2 478.4h0M665.2 359.4h0M665.2 375.1h0M669.3 421.4h0M665.3 289.6h0M673.2 283.7h0M695.4 282.4h0M721.4 272.4h0M722.2 322.5h0M722.2 370.4h0M740.4 281.6h0M749.4 390.3h0M754.5 305.5h0M757.3 300.4h0M757.3 403.6h0M754.5 274.0h0M759.6 275.5h0M766.6 276.5h0M775.0 277.0h0M775.5 324.2h0M781.5 287.2h0M783.1 305.5h0M783.1 393.4h0M788.5 326.0h0M798.1 344.3h0M778.6 272.0h0M811.4 283.7h0M811.4 299.6h0M811.4 309.5h0M811.2 313.5h0M811.4 321.4h0M811.4 325.3h0M810.3 355.4h0M810.3 363.9h0M810.3 366.7h0M811.4 376.6h0M810.3 397.0h0M810.3 400.7h0M811.4 409.2h0M810.3 415.5h0M820.6 276.9h0M825.2 284.2h0M837.3 284.8h0M846.4 384.6h0M853.5 274.6h0M865.1 343.2h0M864.3 365.3h0M879.3 362.5h0M883.3 331.6h0M882.4 382.3h0M904.2 294.2h0M901.5 270.5h0M906.5 269.0h0M910.5 355.4h0M919.0 272.0h0M919.0 277.0h0M934.3 282.3h0M928.5 271.5h0M932.0 276.0h0M934.5 279.3h0M947.5 276.5h0M947.2 285.3h0M947.0 279.5h0M962.9 291.5h0M963.2 283.7h0M963.2 296.7h0M962.1 304.2h0M963.6 307.0h0M970.5 314.4h0M964.5 321.3h0M970.7 275.5h0M973.3 387.2h0M974.2 395.6h0M974.2 402.3h0M991.5 395.6h0" stroke="#00008b" stroke-width="5.9" stroke-linecap="round" fill="none"/>
<path d="M492.8 118.4H798.4" stroke="#807dba" stroke-width="6.9" stroke-linecap="round" fill="none"/>
<path d="M798.4 118.4H992.6" stroke="#660066" stroke-width="6.9" stroke-linecap="round" fill="none"/>
<g stroke="#000" fill="none" stroke-width="2.20" stroke-linecap="square">
<rect x="153.95" y="111.90" width="866.20" height="390.90"/>
<line x1="153.95" x2="1020.15" y1="125.00" y2="125.00"/>
</g>
<g stroke="#000" stroke-width="2.20">
<line x1="144.25" x2="153.95" y1="490.00" y2="490.00"/>
<line x1="144.25" x2="153.95" y1="414.97" y2="414.97"/>
<line x1="144.25" x2="153.95" y1="339.94" y2="339.94"/>
<line x1="144.25" x2="153.95" y1="264.91" y2="264.91"/>
<line x1="144.25" x2="153.95" y1="189.88" y2="189.88"/>
<line x1="154.00" x2="154.00" y1="502.80" y2="512.90"/>
<line x1="264.95" x2="264.95" y1="502.80" y2="512.90"/>
<line x1="375.90" x2="375.90" y1="502.80" y2="512.90"/>
<line x1="486.85" x2="486.85" y1="502.80" y2="512.90"/>
<line x1="597.80" x2="597.80" y1="502.80" y2="512.90"/>
<line x1="708.75" x2="708.75" y1="502.80" y2="512.90"/>
<line x1="819.70" x2="819.70" y1="502.80" y2="512.90"/>
<line x1="930.65" x2="930.65" y1="502.80" y2="512.90"/>
</g>
<g stroke="#000" stroke-width="1.9">
<line x1="167.87" x2="167.87" y1="502.80" y2="508.80"/>
<line x1="181.74" x2="181.74" y1="502.80" y2="508.80"/>
<line x1="195.61" x2="195.61" y1="502.80" y2="508.80"/>
<line x1="209.47" x2="209.47" y1="502.80" y2="508.80"/>
<line x1="223.34" x2="223.34" y1="502.80" y2="508.80"/>
<line x1="237.21" x2="237.21" y1="502.80" y2="508.80"/>
<line x1="251.08" x2="251.08" y1="502.80" y2="508.80"/>
<line x1="278.82" x2="278.82" y1="502.80" y2="508.80"/>
<line x1="292.69" x2="292.69" y1="502.80" y2="508.80"/>
<line x1="306.56" x2="306.56" y1="502.80" y2="508.80"/>
<line x1="320.43" x2="320.43" y1="502.80" y2="508.80"/>
<line x1="334.29" x2="334.29" y1="502.80" y2="508.80"/>
<line x1="348.16" x2="348.16" y1="502.80" y2="508.80"/>
<line x1="362.03" x2="362.03" y1="502.80" y2="508.80"/>
<line x1="389.77" x2="389.77" y1="502.80" y2="508.80"/>
<line x1="403.64" x2="403.64" y1="502.80" y2="508.80"/>
<line x1="417.51" x2="417.51" y1="502.80" y2="508.80"/>
<line x1="431.38" x2="431.38" y1="502.80" y2="508.80"/>
<line x1="445.24" x2="445.24" y1="502.80" y2="508.80"/>
<line x1="459.11" x2="459.11" y1="502.80" y2="508.80"/>
<line x1="472.98" x2="472.98" y1="502.80" y2="508.80"/>
<line x1="500.72" x2="500.72" y1="502.80" y2="508.80"/>
<line x1="514.59" x2="514.59" y1="502.80" y2="508.80"/>
<line x1="528.46" x2="528.46" y1="502.80" y2="508.80"/>
<line x1="542.33" x2="542.33" y1="502.80" y2="508.80"/>
<line x1="556.19" x2="556.19" y1="502.80" y2="508.80"/>
<line x1="570.06" x2="570.06" y1="502.80" y2="508.80"/>
<line x1="583.93" x2="583.93" y1="502.80" y2="508.80"/>
<line x1="611.67" x2="611.67" y1="502.80" y2="508.80"/>
<line x1="625.54" x2="625.54" y1="502.80" y2="508.80"/>
<line x1="639.41" x2="639.41" y1="502.80" y2="508.80"/>
<line x1="653.28" x2="653.28" y1="502.80" y2="508.80"/>
<line x1="667.14" x2="667.14" y1="502.80" y2="508.80"/>
<line x1="681.01" x2="681.01" y1="502.80" y2="508.80"/>
<line x1="694.88" x2="694.88" y1="502.80" y2="508.80"/>
<line x1="722.62" x2="722.62" y1="502.80" y2="508.80"/>
<line x1="736.49" x2="736.49" y1="502.80" y2="508.80"/>
<line x1="750.36" x2="750.36" y1="502.80" y2="508.80"/>
<line x1="764.23" x2="764.23" y1="502.80" y2="508.80"/>
<line x1="778.09" x2="778.09" y1="502.80" y2="508.80"/>
<line x1="791.96" x2="791.96" y1="502.80" y2="508.80"/>
<line x1="805.83" x2="805.83" y1="502.80" y2="508.80"/>
<line x1="833.57" x2="833.57" y1="502.80" y2="508.80"/>
<line x1="847.44" x2="847.44" y1="502.80" y2="508.80"/>
<line x1="861.31" x2="861.31" y1="502.80" y2="508.80"/>
<line x1="875.18" x2="875.18" y1="502.80" y2="508.80"/>
<line x1="889.04" x2="889.04" y1="502.80" y2="508.80"/>
<line x1="902.91" x2="902.91" y1="502.80" y2="508.80"/>
<line x1="916.78" x2="916.78" y1="502.80" y2="508.80"/>
<line x1="944.52" x2="944.52" y1="502.80" y2="508.80"/>
<line x1="958.39" x2="958.39" y1="502.80" y2="508.80"/>
<line x1="972.26" x2="972.26" y1="502.80" y2="508.80"/>
<line x1="986.12" x2="986.12" y1="502.80" y2="508.80"/>
<line x1="999.99" x2="999.99" y1="502.80" y2="508.80"/>
<line x1="1013.86" x2="1013.86" y1="502.80" y2="508.80"/>
</g>
<text y="500.35" font-size="26.50"><tspan x="119.32" textLength="14.67" lengthAdjust="spacingAndGlyphs">0</tspan></text>
<text y="425.32" font-size="26.50"><tspan x="55.69" textLength="78.39" lengthAdjust="spacingAndGlyphs">10000</tspan></text>
<text y="350.29" font-size="26.50"><tspan x="55.48" textLength="78.60" lengthAdjust="spacingAndGlyphs">20000</tspan></text>
<text y="275.26" font-size="26.50"><tspan x="55.88" textLength="78.19" lengthAdjust="spacingAndGlyphs">30000</tspan></text>
<text y="200.23" font-size="26.50"><tspan x="55.59" textLength="78.49" lengthAdjust="spacingAndGlyphs">40000</tspan></text>
<text y="540.90" font-size="26.50"><tspan x="123.21" textLength="62.72" lengthAdjust="spacingAndGlyphs">1996</tspan></text>
<text y="540.90" font-size="26.50"><tspan x="233.95" textLength="62.73" lengthAdjust="spacingAndGlyphs">2000</tspan></text>
<text y="540.90" font-size="26.50"><tspan x="344.90" textLength="62.71" lengthAdjust="spacingAndGlyphs">2004</tspan></text>
<text y="540.90" font-size="26.50"><tspan x="455.85" textLength="62.80" lengthAdjust="spacingAndGlyphs">2008</tspan></text>
<text y="540.90" font-size="26.50"><tspan x="566.82" textLength="62.16" lengthAdjust="spacingAndGlyphs">2012</tspan></text>
<text y="540.90" font-size="26.50"><tspan x="677.75" textLength="62.94" lengthAdjust="spacingAndGlyphs">2016</tspan></text>
<text y="540.90" font-size="26.50"><tspan x="788.70" textLength="62.73" lengthAdjust="spacingAndGlyphs">2020</tspan></text>
<text y="540.90" font-size="26.50"><tspan x="899.65" textLength="62.71" lengthAdjust="spacingAndGlyphs">2024</tspan></text>
<text y="575.80" font-size="26.50"><tspan x="560.97" textLength="54.05" lengthAdjust="spacingAndGlyphs">Year</tspan></text>
<text y="0.00" font-size="26.50" transform="translate(38.3,410.8) rotate(-90)"><tspan x="-2.26" textLength="59.26" lengthAdjust="spacingAndGlyphs">Max.</tspan> <tspan x="65.54" textLength="31.26" lengthAdjust="spacingAndGlyphs">nr.</tspan> <tspan x="105.00" textLength="24.41" lengthAdjust="spacingAndGlyphs">of</tspan> <tspan x="137.03" textLength="56.13" lengthAdjust="spacingAndGlyphs">Obs.</tspan></text>
<text x="-1.57" y="0.00" font-size="23.11" transform="translate(1003.1,134.3) rotate(90)" textLength="38.83" lengthAdjust="spacingAndGlyphs">Now</text>
<rect x="67.3" y="598.2" width="950.3" height="43.9" rx="5" ry="5" fill="#fff" stroke="#ccc" stroke-width="2.6"/>
<circle cx="90.6" cy="618.3" r="4.4" fill="#00008b"/>
<text y="625.80" font-size="26.50"><tspan x="104.83" textLength="49.81" lengthAdjust="spacingAndGlyphs">GPS</tspan></text>
<circle cx="332.5" cy="618.3" r="4.4" fill="#807dba"/>
<text y="625.80" font-size="26.50"><tspan x="346.73" textLength="90.67" lengthAdjust="spacingAndGlyphs">RINEX2</tspan></text>
<circle cx="616.7" cy="618.3" r="4.4" fill="#660066"/>
<text y="625.80" font-size="26.50"><tspan x="630.42" textLength="91.06" lengthAdjust="spacingAndGlyphs">RINEX3</tspan></text>
<circle cx="900.6" cy="618.3" r="4.4" fill="#1f0a2a"/>
<text y="625.80" font-size="26.50"><tspan x="914.81" textLength="91.28" lengthAdjust="spacingAndGlyphs">RINEX4</tspan></text>
<text y="674.40" font-size="20.03" font-style="italic"><tspan x="65.54" textLength="37.21" lengthAdjust="spacingAndGlyphs">Thu</tspan> <tspan x="109.22" textLength="37.14" lengthAdjust="spacingAndGlyphs">Mar</tspan> <tspan x="152.67" textLength="23.58" lengthAdjust="spacingAndGlyphs">19</tspan> <tspan x="183.57" textLength="85.87" lengthAdjust="spacingAndGlyphs">14:25:33</tspan> <tspan x="276.90" textLength="48.44" lengthAdjust="spacingAndGlyphs">2026</tspan></text>
<text y="674.40" font-size="20.03" font-style="italic"><tspan x="879.79" textLength="131.95" lengthAdjust="spacingAndGlyphs">©GNSS@ROB</tspan></text>
</svg></body></html>
